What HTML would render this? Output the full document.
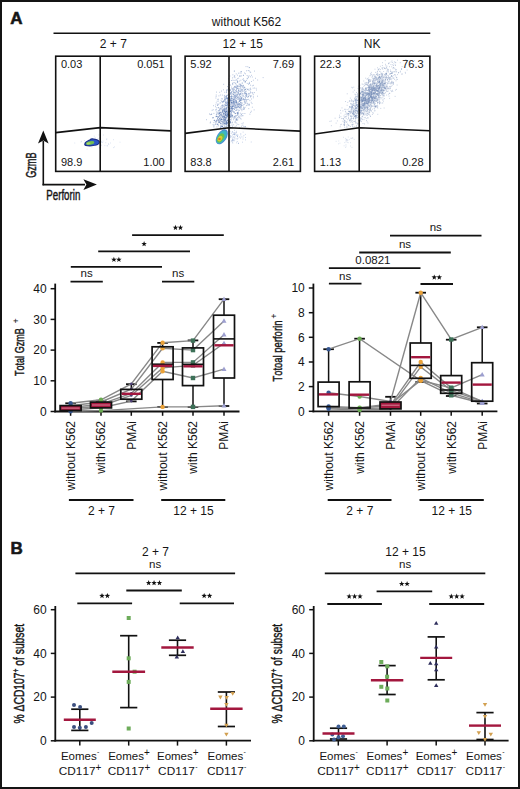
<!DOCTYPE html>
<html><head><meta charset="utf-8"><style>
html,body{margin:0;padding:0;background:#fff;}
svg{display:block;}
text{font-family:"Liberation Sans",sans-serif;fill:#151515;font-kerning:none;}
.c{stroke:#1a1a1a;stroke-width:0.45px;}
</style></head><body>
<svg width="520" height="789" viewBox="0 0 520 789">
<rect x="1" y="1" width="518" height="787" fill="#fff" stroke="#141414" stroke-width="2"/>
<text x="10.3" y="23.7" font-size="17" text-anchor="start" font-weight="bold" stroke="#1a1a1a" stroke-width="0.6">A</text>
<text x="246.5" y="26.0" font-size="12" text-anchor="middle" >without K562</text>
<line x1="53.5" y1="33.2" x2="430.3" y2="33.2" stroke="#111" stroke-width="1.6"/>
<path d="M100.0 143.8h.01M103.0 141.1h.01M97.3 143.5h.01M91.1 138.3h.01M95.5 140.7h.01M90.1 142.2h.01M100.6 146.6h.01M113.4 147.6h.01M95.1 137.7h.01M93.8 139.8h.01M104.9 145.6h.01M103.6 135.0h.01M101.1 141.1h.01M90.7 142.6h.01M99.7 148.0h.01M107.0 145.8h.01M86.6 141.7h.01M95.4 141.5h.01M81.0 142.0h.01M87.1 149.1h.01M81.6 141.3h.01M97.6 141.8h.01M87.3 144.4h.01M102.7 142.5h.01M101.6 142.2h.01M98.1 138.5h.01M74.8 143.0h.01M94.6 141.2h.01M99.5 147.7h.01M101.1 145.6h.01M84.7 142.9h.01M95.2 145.7h.01M90.2 141.6h.01M91.9 147.2h.01M110.6 143.0h.01M91.9 145.3h.01M99.7 137.8h.01M108.8 144.4h.01M94.2 136.2h.01M98.9 134.9h.01M101.1 141.8h.01M100.6 139.4h.01M87.7 143.7h.01M100.8 152.0h.01M113.6 139.7h.01M84.5 140.5h.01M108.6 143.8h.01M101.2 145.0h.01M93.6 142.3h.01M120.0 142.2h.01M107.6 145.8h.01M88.0 145.1h.01M100.7 138.9h.01M105.8 142.7h.01M98.1 143.1h.01M106.8 138.8h.01M99.3 144.0h.01M106.7 139.6h.01M114.4 146.9h.01M93.2 143.8h.01" stroke="#9fb4dc" stroke-width="0.7" stroke-linecap="round" opacity="0.6" fill="none"/>
<path d="M84.2,144.3 C84.6,141.6 87.6,140.2 89.6,139.4 C90.6,138.2 92.4,137.9 93.6,138.6 C96,138.8 98.6,139.2 99.8,141.6 C100,143.6 98.6,145.2 96.4,145.6 C93,146.6 88,146.6 85.6,146.0 C84.6,145.7 84.1,145.1 84.2,144.3 Z" fill="#1c2f86"/>
<path d="M85.4,144.2 C85.8,142.4 88.2,141.2 90,140.6 C91.2,139.6 92.6,139.4 93.8,139.8 C96,140 98,140.4 98.8,142 C98.8,143.4 97.6,144.4 95.8,144.7 C92.6,145.4 88.4,145.5 86.4,145.1 C85.7,144.9 85.3,144.6 85.4,144.2 Z" fill="#2b56c8"/>
<ellipse cx="90.2" cy="143.0" rx="4.2" ry="1.7" transform="rotate(-10 90.2 143)" fill="#72be52"/>
<ellipse cx="88.6" cy="143.4" rx="2.0" ry="0.9" transform="rotate(-10 88.6 143.4)" fill="#a8d468"/>
<path d="M234.2 99.4h.01M228.9 107.9h.01M238.8 104.8h.01M215.4 124.2h.01M236.5 119.9h.01M236.9 96.3h.01M216.9 126.9h.01M236.4 88.4h.01M219.6 122.1h.01M240.1 91.5h.01M224.7 110.0h.01M246.7 94.1h.01M230.2 96.9h.01M210.4 114.6h.01M237.2 82.3h.01M229.9 76.0h.01M233.8 101.8h.01M239.8 107.8h.01M237.8 105.0h.01M219.9 109.9h.01M236.1 84.2h.01M242.9 113.5h.01M236.3 102.6h.01M229.8 111.5h.01M237.7 112.4h.01M242.9 125.2h.01M250.5 88.2h.01M234.5 103.4h.01M242.6 89.3h.01M238.6 102.7h.01M226.3 108.4h.01M225.6 102.2h.01M231.5 108.6h.01M228.3 98.1h.01M231.9 105.8h.01M233.3 105.2h.01M241.6 126.2h.01M224.1 109.1h.01M243.6 78.8h.01M229.4 109.4h.01M231.1 116.2h.01M243.4 99.7h.01M239.7 81.0h.01M220.4 117.8h.01M222.5 98.9h.01M224.6 106.6h.01M227.5 125.9h.01M239.2 91.4h.01M227.7 98.3h.01M232.5 98.9h.01M230.2 111.0h.01M240.5 96.5h.01M227.4 106.4h.01M232.0 102.1h.01M215.9 110.2h.01M219.7 113.6h.01M253.1 88.2h.01M217.1 101.2h.01M234.0 96.1h.01M235.7 102.1h.01M229.4 105.7h.01M226.2 105.3h.01M237.9 92.5h.01M232.7 105.0h.01M233.1 102.8h.01M222.3 95.1h.01M240.6 85.0h.01M233.0 89.5h.01M233.2 94.3h.01M232.6 109.1h.01M230.4 121.2h.01M246.1 91.1h.01M237.0 86.8h.01M239.7 105.6h.01M245.4 97.3h.01M246.6 94.1h.01M248.6 94.1h.01M239.1 88.4h.01M230.6 106.5h.01M249.0 83.4h.01M218.1 113.4h.01M241.0 90.2h.01M234.0 92.9h.01M237.3 88.4h.01M234.3 71.0h.01M237.5 78.7h.01M227.5 116.1h.01M230.2 125.9h.01M245.9 93.2h.01M227.9 114.2h.01M233.2 100.6h.01M234.1 87.4h.01M227.3 123.9h.01M220.3 128.1h.01M240.0 99.4h.01M246.3 105.6h.01M232.8 104.2h.01M224.9 96.0h.01M223.7 109.8h.01M215.9 116.7h.01M225.7 99.6h.01M237.2 117.7h.01M226.2 123.4h.01M227.6 89.8h.01M238.4 103.8h.01M245.2 99.4h.01M226.2 113.0h.01M226.1 107.7h.01M226.3 113.2h.01M231.1 113.6h.01M239.9 100.3h.01M237.6 114.9h.01M244.6 99.9h.01M244.3 100.0h.01M255.5 78.3h.01M230.5 121.4h.01M229.8 84.7h.01M233.1 101.8h.01M236.5 102.1h.01M223.3 119.0h.01M237.7 109.8h.01M236.6 90.1h.01M227.9 99.3h.01M244.5 104.2h.01M237.1 106.8h.01M242.8 86.4h.01M240.4 104.0h.01M232.6 111.2h.01M206.6 119.7h.01M228.3 106.6h.01M236.0 80.5h.01M236.1 101.0h.01M235.3 120.0h.01M225.7 112.0h.01M233.8 82.7h.01M248.7 104.9h.01M231.8 99.0h.01M226.1 98.0h.01M236.3 101.2h.01M242.1 91.6h.01M233.2 91.6h.01M241.0 100.5h.01M225.1 113.3h.01M231.5 91.5h.01M231.6 110.6h.01M246.1 88.8h.01M222.7 115.9h.01M235.8 103.8h.01M233.8 100.8h.01M245.1 126.9h.01M240.2 76.2h.01M252.3 85.8h.01M231.4 107.0h.01M238.3 90.4h.01M241.5 98.1h.01M244.3 101.5h.01M236.3 102.8h.01M231.1 98.1h.01M224.5 113.6h.01M236.2 106.1h.01M237.2 105.1h.01M250.8 89.5h.01M239.2 97.8h.01M241.4 104.2h.01M253.6 85.3h.01M232.3 108.8h.01M222.4 101.7h.01M215.9 121.5h.01M234.5 76.0h.01M250.7 93.0h.01M234.4 86.4h.01M246.6 95.8h.01M239.0 101.3h.01M247.0 103.2h.01M239.6 107.3h.01M232.6 103.4h.01M233.5 99.7h.01M244.1 81.3h.01M239.0 94.2h.01M230.7 100.2h.01M230.8 108.6h.01M241.3 114.2h.01M232.9 74.8h.01M239.2 95.1h.01M229.0 97.4h.01M233.7 106.1h.01M233.4 118.1h.01M233.7 101.7h.01M244.8 91.8h.01M221.7 101.5h.01M240.4 107.3h.01M229.2 102.1h.01M239.2 101.4h.01M226.2 122.6h.01M216.1 96.4h.01M224.4 110.0h.01M241.2 90.0h.01M240.1 115.8h.01M239.8 94.2h.01M245.3 81.6h.01M223.4 100.9h.01M240.3 113.2h.01M247.5 103.8h.01M234.7 101.1h.01M227.1 113.5h.01M226.6 90.1h.01M252.3 77.0h.01M250.7 112.4h.01M238.0 105.8h.01M236.5 118.6h.01M240.0 98.4h.01M220.6 114.5h.01M236.6 119.6h.01M234.1 80.4h.01M227.7 112.3h.01M242.8 87.5h.01M249.4 83.5h.01M238.8 98.8h.01M240.3 94.8h.01M241.2 73.0h.01M224.9 99.8h.01M231.4 109.0h.01M221.7 116.8h.01M226.2 96.6h.01M235.0 77.7h.01M237.0 86.9h.01M216.7 107.9h.01M220.5 108.3h.01M220.8 102.8h.01M237.4 97.7h.01M235.9 104.9h.01M248.9 104.1h.01M226.5 92.6h.01M228.3 102.9h.01M240.2 104.2h.01M234.3 97.6h.01M231.9 101.1h.01M248.7 99.4h.01M243.5 75.3h.01M230.5 89.7h.01M226.2 96.4h.01M226.6 124.3h.01M238.8 96.8h.01M213.9 122.6h.01M219.6 116.7h.01M243.1 91.3h.01M242.5 93.4h.01M229.4 101.1h.01M228.4 125.4h.01M236.0 107.6h.01M218.7 104.7h.01M236.3 91.7h.01M250.7 72.4h.01M232.0 96.4h.01M215.8 104.9h.01M225.6 115.6h.01M239.1 104.0h.01M243.8 108.0h.01M213.2 109.7h.01M252.3 107.2h.01M220.2 112.9h.01M247.4 89.2h.01M249.0 90.6h.01M247.4 89.6h.01M232.6 107.7h.01M230.0 90.8h.01M237.8 104.6h.01M227.5 104.0h.01M215.9 98.0h.01M245.3 126.6h.01M230.5 122.2h.01M251.2 95.9h.01M227.4 100.8h.01M245.4 102.5h.01M250.9 92.5h.01M229.7 111.3h.01M227.7 95.1h.01M235.7 95.3h.01M217.8 99.4h.01M229.5 82.4h.01M236.4 98.5h.01M220.7 114.1h.01M227.9 112.8h.01M238.6 90.0h.01M249.9 100.6h.01M242.3 83.1h.01M246.0 96.7h.01M237.4 80.9h.01M230.0 105.1h.01M238.7 107.6h.01M219.6 112.2h.01M247.8 66.7h.01M224.8 99.4h.01M244.8 80.4h.01M241.3 114.4h.01M230.5 96.6h.01M226.0 123.7h.01M226.3 103.4h.01M232.8 84.6h.01M218.9 113.9h.01M250.5 91.2h.01M252.0 103.6h.01M231.4 116.2h.01M226.8 105.5h.01M236.4 109.2h.01M232.0 100.7h.01M236.5 110.5h.01M231.5 112.8h.01M234.5 105.9h.01M232.3 116.4h.01M223.0 116.3h.01M231.6 100.4h.01M228.5 84.2h.01M222.5 119.9h.01M225.2 96.7h.01M229.7 109.2h.01M222.4 111.1h.01M240.3 90.0h.01M234.4 109.2h.01M234.1 77.0h.01M224.5 108.9h.01M230.6 93.1h.01M238.0 106.2h.01M241.2 116.0h.01M243.6 95.8h.01M231.3 102.0h.01M247.7 97.4h.01M224.3 97.1h.01M237.8 119.8h.01M229.6 100.4h.01M216.6 92.1h.01M257.6 96.2h.01M239.4 117.7h.01M227.5 98.5h.01M225.3 124.2h.01M237.0 91.8h.01M228.7 115.6h.01M214.0 120.5h.01M229.7 99.8h.01M244.2 87.8h.01M226.8 121.8h.01M235.9 118.9h.01M230.6 111.1h.01M243.2 122.9h.01M232.1 93.9h.01M231.4 112.4h.01M217.6 104.8h.01M229.8 89.6h.01M238.7 114.9h.01M230.9 92.5h.01M232.2 115.4h.01M226.8 116.8h.01M216.7 122.1h.01M243.3 75.4h.01M229.2 103.7h.01M232.8 96.3h.01M239.3 103.6h.01M239.7 100.8h.01M231.0 98.6h.01M240.0 73.1h.01M230.1 115.6h.01M224.5 121.3h.01M235.2 117.4h.01M243.9 126.5h.01M244.5 93.6h.01M239.2 90.1h.01M227.6 113.2h.01M220.6 116.8h.01M226.4 103.0h.01M236.2 79.6h.01M234.8 92.8h.01M232.9 117.4h.01M238.1 86.1h.01M226.8 114.7h.01M224.8 101.2h.01M236.3 125.8h.01M232.0 115.4h.01M254.5 88.0h.01M244.6 92.5h.01M241.9 110.7h.01M227.7 111.8h.01M227.9 128.1h.01M249.9 114.2h.01M226.3 97.8h.01M241.7 105.6h.01M245.1 107.3h.01M230.6 117.1h.01M239.1 104.1h.01M242.7 105.3h.01M237.8 82.0h.01M248.4 77.6h.01M227.9 100.2h.01M225.4 109.1h.01M230.0 100.0h.01M229.9 108.6h.01M231.0 111.3h.01M237.2 103.1h.01M218.7 110.5h.01M251.4 99.0h.01M241.6 105.9h.01M240.9 99.9h.01M231.0 102.3h.01M229.6 110.3h.01M232.5 115.2h.01M235.8 105.4h.01M219.9 103.1h.01M240.9 100.2h.01M254.1 109.9h.01M213.9 113.4h.01M241.6 103.1h.01M229.0 119.9h.01M230.1 108.8h.01M242.0 109.1h.01M214.1 124.8h.01M236.1 100.3h.01M245.3 103.5h.01M232.2 102.5h.01M229.1 105.3h.01M233.0 106.3h.01M225.7 112.5h.01M243.3 109.3h.01M225.1 105.5h.01M240.9 102.5h.01M218.9 113.1h.01M240.4 99.9h.01M234.6 98.8h.01M216.2 95.0h.01M231.8 106.8h.01M230.6 90.4h.01M221.5 121.6h.01M247.6 99.6h.01M228.4 94.4h.01M229.0 94.0h.01M246.5 100.3h.01M231.4 110.0h.01M243.3 109.1h.01M240.5 93.6h.01M231.1 92.6h.01M235.3 98.1h.01M233.7 124.8h.01M244.1 96.8h.01M241.5 85.6h.01M240.9 87.8h.01M235.1 97.6h.01M221.3 119.8h.01M253.2 94.4h.01M233.7 103.0h.01M233.5 94.6h.01M230.5 122.9h.01M231.1 120.1h.01M229.8 109.0h.01M237.6 82.1h.01M232.4 106.0h.01M224.8 92.3h.01M236.2 73.9h.01M249.4 82.4h.01M230.6 100.9h.01M235.6 105.3h.01M235.2 121.4h.01M234.7 112.2h.01M237.2 95.4h.01M251.2 102.3h.01M239.7 101.6h.01M238.1 86.8h.01M234.8 113.4h.01M236.9 103.0h.01M233.1 88.7h.01M238.5 93.5h.01M239.8 86.4h.01M223.6 89.8h.01M231.5 104.6h.01M234.8 95.4h.01M225.5 112.9h.01M213.6 117.6h.01M235.6 92.2h.01M233.9 101.6h.01M237.0 97.2h.01M216.7 120.0h.01M236.6 107.8h.01M222.7 105.2h.01M227.8 111.7h.01M227.8 103.3h.01M236.4 87.6h.01M244.0 99.2h.01M228.3 107.8h.01M232.4 100.3h.01M240.5 91.7h.01M218.9 95.9h.01M232.2 91.3h.01M231.8 88.9h.01M237.4 75.2h.01M235.5 83.4h.01M230.7 94.3h.01M238.3 97.9h.01M233.2 87.9h.01M232.1 108.5h.01M237.0 102.8h.01M235.0 86.8h.01M247.1 75.5h.01M244.5 108.1h.01M236.4 102.6h.01M231.4 96.4h.01M242.1 83.1h.01M228.2 98.6h.01M245.1 82.4h.01M234.5 116.4h.01M227.9 101.0h.01M231.9 103.0h.01M246.7 94.0h.01M237.4 85.7h.01M226.7 121.5h.01M222.2 110.0h.01M231.0 94.1h.01M227.1 108.1h.01M239.7 127.6h.01M238.0 86.1h.01M234.0 92.9h.01M233.8 92.8h.01M230.6 106.8h.01M245.0 89.4h.01M234.3 104.7h.01M254.6 92.6h.01M230.4 113.7h.01M238.9 116.6h.01M237.5 99.1h.01M234.3 112.1h.01M229.1 87.8h.01M235.2 97.2h.01M228.5 113.0h.01M233.3 99.3h.01M218.3 99.2h.01M245.8 91.5h.01M228.2 108.2h.01M229.0 105.5h.01M240.1 84.2h.01M246.4 70.8h.01M249.1 75.8h.01M226.5 96.4h.01M229.7 95.3h.01M245.6 81.6h.01M234.7 103.1h.01M226.2 112.8h.01M231.4 97.8h.01M231.7 92.6h.01M229.2 111.8h.01M232.4 126.3h.01M219.0 116.8h.01M248.5 96.7h.01M235.5 113.5h.01M230.7 101.5h.01M240.9 100.5h.01M228.6 88.5h.01M221.1 100.3h.01M229.0 90.6h.01M226.5 111.5h.01M230.2 104.8h.01M225.0 113.0h.01M241.9 86.3h.01M220.3 95.0h.01M233.3 112.2h.01M223.1 101.4h.01M228.8 102.0h.01M236.0 90.5h.01M217.4 118.6h.01M219.3 110.6h.01M225.6 103.0h.01M249.6 67.5h.01M244.1 90.1h.01M237.5 104.1h.01M232.2 88.6h.01M241.6 71.5h.01M227.1 101.4h.01M235.3 107.2h.01M228.4 78.9h.01M245.6 98.2h.01M235.3 90.7h.01M226.3 105.4h.01M248.2 76.6h.01M251.5 81.5h.01M240.1 94.5h.01M245.5 95.1h.01M223.3 128.2h.01M246.4 96.2h.01M241.5 107.3h.01M236.4 95.0h.01M248.0 96.3h.01M233.5 106.0h.01M225.0 123.6h.01M230.7 93.4h.01M228.2 109.9h.01M237.6 107.7h.01M222.3 105.1h.01M236.7 107.4h.01M243.6 85.7h.01M221.5 91.1h.01M240.5 86.0h.01M250.6 76.8h.01M229.6 98.4h.01M224.3 125.1h.01M213.6 105.7h.01M231.7 118.9h.01M227.2 105.7h.01M240.7 102.5h.01M210.4 122.0h.01M241.1 98.5h.01M223.9 120.2h.01M241.6 99.5h.01M227.8 99.7h.01M228.6 103.3h.01M248.8 108.6h.01M225.8 105.7h.01M226.2 107.0h.01M222.6 122.4h.01M227.6 98.4h.01M253.3 80.2h.01M257.7 80.0h.01M237.8 81.4h.01M227.4 86.6h.01M238.1 113.4h.01M250.4 85.2h.01M239.6 104.2h.01M241.7 105.3h.01M227.1 102.3h.01M233.9 99.3h.01M222.8 102.6h.01M224.7 97.9h.01M234.4 118.2h.01M227.9 103.9h.01M263.1 77.6h.01M234.6 102.1h.01M228.9 102.3h.01M242.9 96.3h.01M250.5 97.0h.01M231.0 117.2h.01M225.3 100.1h.01M242.4 90.0h.01M245.1 101.5h.01M232.0 97.9h.01M238.7 78.2h.01M237.1 113.0h.01M235.9 100.3h.01M224.2 104.6h.01M240.9 80.2h.01M217.9 124.5h.01M232.4 110.7h.01M232.1 108.3h.01M246.0 95.7h.01M242.8 95.1h.01M232.6 77.9h.01M227.8 123.0h.01M244.9 93.8h.01M235.7 106.2h.01M237.3 112.9h.01M234.1 92.2h.01M222.8 110.3h.01M225.3 102.7h.01M211.4 114.4h.01M237.3 112.6h.01M232.0 93.9h.01M234.4 96.0h.01M234.8 75.9h.01M224.6 99.7h.01M217.7 117.8h.01M227.6 109.9h.01M231.4 114.2h.01M212.1 110.3h.01M242.0 97.5h.01M222.9 106.0h.01M215.7 124.0h.01M243.1 93.8h.01M233.3 102.3h.01M226.6 91.7h.01M247.2 105.1h.01M232.6 90.1h.01M236.3 101.2h.01M243.2 85.3h.01M246.3 99.6h.01M233.9 94.5h.01M243.6 98.6h.01M220.9 118.0h.01M240.9 106.5h.01M227.9 102.2h.01M233.4 97.2h.01M238.8 124.6h.01M246.4 80.4h.01M235.8 99.9h.01M242.0 123.7h.01M226.6 124.6h.01M227.5 102.3h.01M238.8 104.4h.01M222.5 107.0h.01M242.5 103.1h.01M238.6 113.1h.01M234.0 92.0h.01M226.0 108.7h.01M235.4 102.0h.01M240.4 88.1h.01M232.2 116.0h.01M218.3 101.1h.01M226.6 110.8h.01M236.5 89.4h.01M225.8 115.4h.01M233.6 108.3h.01M226.3 97.7h.01M232.5 115.7h.01M227.6 113.1h.01M227.4 105.4h.01M213.0 124.7h.01M218.1 116.6h.01M234.4 107.5h.01M229.1 96.2h.01M233.8 103.6h.01M230.9 127.6h.01M238.5 110.2h.01M249.5 95.1h.01M235.9 92.8h.01M226.9 98.8h.01M235.9 115.8h.01M240.3 93.6h.01M238.4 112.0h.01M227.6 116.5h.01M237.5 115.1h.01M248.7 84.4h.01M240.5 100.2h.01M244.7 87.2h.01M234.2 108.5h.01M241.6 89.3h.01M232.4 109.6h.01M240.1 106.0h.01M246.0 66.6h.01M250.5 96.0h.01M230.8 107.3h.01M240.5 105.0h.01M235.9 96.4h.01M240.1 84.3h.01M244.9 113.5h.01M222.1 123.1h.01M224.5 100.9h.01M229.9 98.7h.01M233.1 98.6h.01M256.5 90.0h.01M237.8 97.4h.01M245.5 93.0h.01M221.3 112.6h.01M242.0 90.6h.01M251.4 75.3h.01M250.9 96.1h.01M231.4 95.6h.01M239.4 100.8h.01M247.2 78.3h.01M222.3 110.2h.01M233.7 102.4h.01M235.5 94.1h.01M223.7 84.3h.01M235.8 108.6h.01M239.9 98.5h.01M230.0 103.4h.01M226.4 95.4h.01M243.4 107.1h.01M229.4 116.9h.01M241.0 104.3h.01M249.0 93.6h.01M225.3 112.2h.01M238.4 106.6h.01M236.9 91.5h.01M227.7 114.9h.01M235.0 98.3h.01M228.2 115.0h.01M248.6 89.3h.01M249.1 70.8h.01M245.6 73.8h.01M231.4 103.1h.01M241.2 92.2h.01M229.4 96.7h.01M231.8 98.2h.01M243.4 80.4h.01M222.9 116.7h.01M240.0 86.7h.01M230.2 99.8h.01M256.1 88.3h.01M244.3 102.5h.01M233.4 111.2h.01M235.8 97.2h.01M253.3 97.8h.01M236.8 101.5h.01M236.8 94.3h.01M233.4 108.8h.01M249.1 93.3h.01M238.6 91.7h.01M249.2 105.3h.01M229.1 97.5h.01M245.3 89.4h.01M225.2 104.1h.01M242.2 115.7h.01M231.2 102.5h.01M241.2 85.1h.01M232.3 122.1h.01M249.9 89.0h.01M223.4 106.1h.01M225.6 114.5h.01M232.9 80.2h.01M234.8 102.7h.01M226.1 117.9h.01M230.1 104.7h.01M235.6 86.7h.01M239.1 84.1h.01M227.0 104.4h.01M240.4 97.2h.01M248.7 96.1h.01M218.0 103.8h.01M235.9 96.0h.01M231.6 100.2h.01M234.5 109.5h.01M225.3 104.7h.01M233.9 99.7h.01M227.9 97.5h.01M235.7 110.5h.01M232.6 106.9h.01M240.1 85.8h.01M238.2 99.3h.01M238.2 88.6h.01M231.5 80.5h.01M241.9 95.0h.01M250.0 71.9h.01M228.6 111.4h.01M245.8 93.2h.01M240.6 108.8h.01M238.4 73.2h.01M239.5 76.2h.01M238.0 118.0h.01M233.6 90.0h.01M231.5 87.1h.01M234.7 89.4h.01M230.8 100.5h.01M226.8 90.3h.01M238.6 92.5h.01M225.6 98.2h.01M232.7 83.8h.01M233.8 90.6h.01M227.8 114.4h.01M244.4 90.2h.01M238.5 106.4h.01M227.0 111.7h.01M237.0 96.2h.01M223.6 110.6h.01M240.5 118.2h.01M229.4 123.6h.01M227.1 98.1h.01M237.5 94.4h.01M245.3 89.6h.01M236.8 104.3h.01M252.8 92.6h.01M243.6 104.8h.01M230.4 100.6h.01M237.3 93.2h.01M232.4 83.2h.01M234.1 106.3h.01M234.0 104.7h.01M251.3 111.2h.01M235.6 100.2h.01M215.4 106.7h.01M236.2 85.4h.01M232.8 106.6h.01M229.0 91.2h.01M223.9 109.3h.01M234.2 95.2h.01M239.1 96.8h.01M230.9 106.1h.01M240.8 71.7h.01M241.9 98.4h.01M241.6 75.9h.01M237.0 86.8h.01M221.5 105.7h.01M227.1 103.7h.01M241.4 97.2h.01M224.3 95.4h.01M234.3 100.1h.01M237.5 106.9h.01M221.2 123.8h.01M234.7 104.7h.01M213.9 127.0h.01M245.3 100.0h.01M237.4 113.9h.01M231.8 111.1h.01M221.7 98.7h.01M229.3 94.3h.01M232.3 122.8h.01M230.1 116.0h.01M224.7 112.0h.01M242.8 79.4h.01M228.2 115.0h.01M241.2 93.7h.01M216.3 114.6h.01M242.5 99.8h.01M241.3 109.2h.01M226.6 98.4h.01M229.0 89.5h.01M247.3 78.8h.01M231.4 96.5h.01M219.7 92.3h.01M234.0 116.3h.01M239.0 93.8h.01M229.9 102.8h.01M253.3 96.3h.01M235.1 102.0h.01M240.0 75.8h.01M223.3 127.5h.01M225.9 101.8h.01M234.8 87.1h.01M234.9 106.8h.01M226.1 109.8h.01M230.0 103.2h.01M237.2 124.2h.01M240.8 102.0h.01M254.4 71.1h.01M244.8 87.4h.01M231.0 117.1h.01M238.8 116.9h.01M232.0 106.3h.01M252.7 93.2h.01M223.3 109.0h.01M228.7 109.4h.01M230.7 85.2h.01M237.4 88.6h.01M235.7 107.5h.01M237.3 120.1h.01M220.9 119.5h.01M230.4 110.2h.01M234.1 88.9h.01M222.9 105.8h.01M237.8 94.8h.01M234.3 71.2h.01M242.2 85.8h.01M227.8 116.3h.01M235.4 87.6h.01M234.8 82.7h.01M221.0 106.7h.01M241.1 119.1h.01M225.0 98.5h.01M235.1 126.8h.01M247.2 83.4h.01M220.3 112.2h.01M239.7 107.7h.01M244.5 109.1h.01M229.4 96.0h.01M234.2 96.5h.01M240.1 106.9h.01M243.5 87.0h.01M230.8 99.3h.01M233.8 112.0h.01M227.1 95.5h.01M249.6 104.3h.01M224.3 110.9h.01M216.2 102.9h.01M238.4 90.2h.01M235.7 96.0h.01M243.0 115.7h.01M244.5 73.0h.01M248.2 70.5h.01M229.6 122.1h.01M246.7 101.7h.01M249.1 67.7h.01M246.0 93.7h.01M239.2 99.6h.01M231.3 102.9h.01M231.8 108.4h.01M233.4 103.9h.01M225.2 105.6h.01M246.9 94.8h.01M223.0 102.1h.01M239.5 110.3h.01M233.6 119.7h.01M233.6 101.4h.01M224.1 110.5h.01M231.9 102.7h.01M243.8 88.6h.01M241.6 98.4h.01M239.4 95.2h.01M243.1 99.2h.01M231.2 98.6h.01" stroke="#5878b4" stroke-width="0.9" stroke-linecap="round" opacity="0.55" fill="none"/>
<path d="M226.9 117.8h.01M218.3 125.8h.01M229.8 115.6h.01M225.5 117.7h.01M221.6 119.7h.01M226.4 111.4h.01M223.7 113.3h.01M222.9 117.2h.01M221.7 126.6h.01M224.9 111.4h.01M223.4 101.3h.01M226.8 122.7h.01M219.4 115.4h.01M226.5 120.8h.01M226.8 116.9h.01M218.1 111.1h.01M222.9 109.0h.01M219.2 122.3h.01M224.2 107.7h.01M216.3 120.7h.01M228.1 118.0h.01M225.8 111.2h.01M227.5 114.9h.01M219.7 122.2h.01M223.7 122.5h.01M219.4 119.0h.01M223.8 118.2h.01M229.5 112.9h.01M221.0 125.2h.01M223.1 114.5h.01M220.6 112.4h.01M226.1 115.3h.01M226.7 116.2h.01M226.6 109.2h.01M221.7 113.7h.01M228.6 114.4h.01M236.7 120.0h.01M227.1 107.6h.01M228.9 111.8h.01M211.7 114.1h.01M223.9 119.8h.01M218.4 121.8h.01M221.9 119.6h.01M218.8 120.2h.01M224.2 114.8h.01M221.1 126.4h.01M225.0 109.0h.01M224.4 116.4h.01M217.2 116.6h.01M221.2 121.4h.01M225.6 123.9h.01M230.2 128.2h.01M225.9 122.4h.01M225.3 118.5h.01M229.0 121.4h.01M225.1 127.8h.01M230.9 122.9h.01M226.7 125.1h.01M223.9 116.9h.01M229.8 108.3h.01M226.4 115.0h.01M224.6 120.3h.01M220.9 127.3h.01M216.9 124.1h.01M210.2 122.9h.01M222.7 112.6h.01M212.9 118.0h.01M224.5 117.8h.01M222.5 121.4h.01M216.6 114.0h.01M230.6 111.8h.01M226.3 123.5h.01M223.6 120.1h.01M229.6 125.8h.01M234.7 117.1h.01M216.0 121.1h.01M225.9 126.3h.01M222.6 126.5h.01M222.4 126.6h.01M229.4 117.4h.01M227.1 102.5h.01M218.8 122.2h.01M222.6 111.1h.01M221.2 115.1h.01M220.8 123.8h.01M216.7 116.5h.01M218.7 117.1h.01M224.9 123.0h.01M228.5 107.3h.01M216.3 112.0h.01M221.3 114.6h.01M220.0 120.0h.01M224.5 117.2h.01M223.5 112.0h.01M228.6 119.1h.01M224.8 115.6h.01M225.8 114.2h.01M230.9 111.4h.01M227.5 104.6h.01M231.5 115.0h.01M228.6 113.4h.01M221.2 126.0h.01M223.9 118.7h.01M224.4 123.5h.01M227.2 123.3h.01M230.7 114.7h.01M223.7 123.2h.01M227.7 120.5h.01M229.3 121.4h.01M224.1 117.5h.01M212.8 117.6h.01M228.3 124.7h.01M229.2 107.9h.01M215.7 122.2h.01M220.5 123.3h.01M218.0 120.6h.01M236.5 115.8h.01M231.5 107.5h.01M217.7 112.9h.01M224.7 123.0h.01M221.1 119.5h.01M235.4 116.1h.01M217.0 120.8h.01M217.4 105.4h.01M227.8 110.4h.01M222.6 116.9h.01M223.7 113.6h.01M216.1 109.5h.01M229.8 110.4h.01M229.0 127.2h.01M218.2 107.6h.01M228.4 122.5h.01M219.5 121.0h.01M235.0 122.3h.01M225.5 120.1h.01M220.7 123.0h.01M224.1 124.2h.01M224.9 108.8h.01M232.1 108.7h.01M223.3 113.4h.01M218.8 107.8h.01M232.0 125.0h.01M222.2 117.7h.01M221.9 115.2h.01M222.9 124.6h.01M214.4 120.2h.01M218.1 114.7h.01M220.9 118.7h.01M219.0 122.7h.01M225.3 116.0h.01M228.5 121.8h.01M224.4 111.4h.01M226.2 119.0h.01M226.0 120.9h.01M219.4 115.1h.01M224.6 119.4h.01M218.1 119.7h.01M227.9 122.4h.01M227.9 114.8h.01M225.7 114.5h.01M221.1 108.2h.01M220.3 127.5h.01M219.5 118.6h.01M226.2 121.7h.01M223.9 116.8h.01M219.2 118.8h.01M226.9 122.7h.01M229.2 115.2h.01M221.7 115.8h.01M226.4 126.8h.01M225.9 110.1h.01M225.1 111.9h.01M223.1 121.4h.01M222.6 111.9h.01M220.2 121.1h.01M226.1 111.5h.01M230.4 122.3h.01M228.8 125.5h.01M221.9 119.5h.01M229.4 125.5h.01M224.3 116.9h.01M226.2 117.8h.01M228.1 119.6h.01M224.0 121.6h.01M225.3 118.0h.01M213.9 125.9h.01M230.6 119.4h.01M224.9 111.0h.01M223.3 115.9h.01M209.4 114.0h.01M228.1 121.0h.01M227.4 120.4h.01M226.3 122.7h.01M227.0 123.2h.01M229.4 126.5h.01M226.7 111.4h.01M228.2 120.0h.01M223.0 111.2h.01M221.8 118.6h.01M229.0 119.8h.01M225.4 119.7h.01M219.1 112.7h.01M227.7 114.2h.01M223.8 116.3h.01M218.6 120.0h.01M224.0 123.2h.01M226.3 108.1h.01M216.2 116.3h.01M218.2 117.3h.01M235.7 113.6h.01M219.8 108.9h.01M226.3 115.5h.01M225.8 121.4h.01M232.7 106.5h.01M219.4 113.3h.01M223.9 114.3h.01M224.2 119.2h.01M224.1 127.4h.01M217.8 124.0h.01M219.7 113.4h.01M229.5 117.9h.01M228.4 121.6h.01M222.8 125.2h.01M217.7 124.6h.01M225.0 120.6h.01M220.9 126.2h.01M230.0 114.8h.01M221.2 109.1h.01M231.5 102.8h.01M225.4 112.9h.01M217.5 119.0h.01M222.8 123.2h.01M220.7 120.4h.01M225.4 119.8h.01M219.9 109.8h.01M225.3 114.5h.01M227.4 115.7h.01M225.8 117.4h.01M230.5 116.6h.01M222.1 107.6h.01M214.5 120.7h.01M224.0 121.0h.01M222.6 126.5h.01M237.7 113.5h.01M230.0 112.2h.01M221.9 112.1h.01M224.7 126.2h.01M220.6 115.3h.01M216.7 116.2h.01M236.1 122.9h.01M225.0 119.7h.01" stroke="#4868a8" stroke-width="0.9" stroke-linecap="round" opacity="0.6" fill="none"/>
<path d="M235.0 136.8h.01M232.3 142.1h.01M243.0 137.0h.01M233.1 132.6h.01M237.2 141.5h.01M240.8 134.9h.01M238.6 143.2h.01M232.8 138.9h.01M232.6 131.6h.01M240.6 138.1h.01M236.3 131.3h.01M234.2 134.3h.01M231.2 141.1h.01M237.6 136.4h.01M234.2 134.3h.01M234.0 140.9h.01M232.2 140.8h.01M245.6 137.5h.01M236.7 135.3h.01M237.3 135.1h.01M233.2 140.5h.01M234.7 132.6h.01M234.9 133.3h.01M234.7 140.0h.01M251.2 142.0h.01M236.0 134.9h.01M234.7 138.1h.01M229.8 131.8h.01M233.9 134.1h.01M237.4 136.5h.01M237.9 135.1h.01M235.9 132.9h.01M245.5 139.9h.01M236.7 142.8h.01M232.2 137.8h.01M236.5 132.6h.01M229.6 139.0h.01M236.1 138.8h.01M232.4 135.0h.01M231.9 140.7h.01M243.0 139.0h.01M242.6 142.2h.01M235.0 134.1h.01M231.1 136.4h.01M232.8 143.0h.01M238.0 138.1h.01M232.1 132.2h.01M233.3 134.3h.01M243.1 132.1h.01M233.0 139.8h.01M232.9 139.5h.01M241.2 136.9h.01M239.6 137.0h.01M233.2 136.6h.01M230.4 135.9h.01M234.4 130.3h.01M234.4 134.8h.01M229.7 142.4h.01M229.6 134.9h.01M230.4 137.6h.01M232.4 140.1h.01M229.9 131.3h.01M243.9 135.6h.01M237.6 139.0h.01M240.8 133.7h.01M238.6 143.5h.01M245.3 134.4h.01M230.8 136.1h.01M233.9 137.5h.01M231.2 133.4h.01" stroke="#7090c8" stroke-width="0.9" stroke-linecap="round" opacity="0.5" fill="none"/>
<ellipse cx="221.8" cy="136.8" rx="8.4" ry="4.8" transform="rotate(-57 221.8 136.8)" fill="#4f86d4"/>
<ellipse cx="221.6" cy="137.0" rx="7.4" ry="4.0" transform="rotate(-57 221.6 137)" fill="#3cb6c4"/>
<ellipse cx="220.6" cy="138.0" rx="5.0" ry="2.9" transform="rotate(-57 220.6 138)" fill="#6cc050"/>
<ellipse cx="220.0" cy="138.6" rx="3.0" ry="2.0" transform="rotate(-57 220 138.6)" fill="#d8cc34"/>
<ellipse cx="219.5" cy="138.9" rx="1.4" ry="1.0" fill="#dc7420"/>
<path d="M382.4 84.4h.01M354.5 98.9h.01M381.4 83.1h.01M364.5 92.2h.01M387.6 91.4h.01M361.8 101.4h.01M362.5 101.2h.01M357.3 111.6h.01M375.8 87.6h.01M380.5 83.4h.01M401.4 74.1h.01M385.9 79.9h.01M376.7 96.0h.01M372.8 103.3h.01M370.1 87.1h.01M377.4 103.1h.01M390.0 79.4h.01M385.2 87.3h.01M356.6 103.8h.01M365.9 108.4h.01M387.6 79.6h.01M371.2 89.9h.01M377.8 108.1h.01M386.2 82.6h.01M364.6 100.3h.01M367.8 100.5h.01M368.9 105.7h.01M352.7 126.5h.01M382.6 86.9h.01M361.8 116.9h.01M370.2 109.4h.01M356.0 101.1h.01M376.2 84.5h.01M365.0 93.3h.01M370.7 96.3h.01M357.4 124.0h.01M372.1 99.8h.01M348.4 111.5h.01M372.3 90.9h.01M379.0 95.3h.01M367.5 94.2h.01M393.0 68.7h.01M377.5 90.3h.01M368.6 81.0h.01M375.3 97.3h.01M369.4 100.0h.01M383.7 85.5h.01M378.3 77.7h.01M351.7 110.3h.01M379.5 79.8h.01M377.1 90.3h.01M381.4 83.6h.01M376.0 90.4h.01M364.0 119.6h.01M362.6 116.7h.01M387.7 69.1h.01M370.0 90.2h.01M361.6 121.6h.01M372.6 90.2h.01M372.2 106.3h.01M356.2 126.7h.01M341.4 124.3h.01M350.5 116.2h.01M373.6 92.8h.01M365.6 93.3h.01M362.8 95.5h.01M371.5 90.7h.01M380.8 91.5h.01M344.0 122.1h.01M365.7 99.3h.01M358.5 105.2h.01M349.8 107.0h.01M370.6 109.1h.01M358.1 88.5h.01M364.1 97.0h.01M356.0 117.5h.01M358.2 97.0h.01M395.9 71.8h.01M363.7 115.0h.01M346.9 115.0h.01M374.2 93.3h.01M371.9 83.8h.01M377.7 91.9h.01M357.7 111.2h.01M382.5 83.7h.01M367.3 111.8h.01M359.2 112.9h.01M369.2 109.4h.01M371.7 100.0h.01M372.8 81.9h.01M378.4 88.8h.01M372.1 98.3h.01M374.2 78.1h.01M377.1 100.2h.01M380.7 84.5h.01M355.7 116.1h.01M348.0 113.4h.01M379.3 86.1h.01M355.5 115.6h.01M365.2 98.8h.01M369.3 97.7h.01M354.9 94.2h.01M371.1 107.4h.01M381.0 73.3h.01M331.2 121.0h.01M375.9 80.6h.01M392.6 62.4h.01M372.8 97.9h.01M365.7 92.7h.01M379.7 87.6h.01M386.7 68.1h.01M366.5 120.5h.01M373.6 97.1h.01M376.8 106.2h.01M371.9 84.7h.01M374.9 96.6h.01M373.3 83.6h.01M367.9 103.9h.01M373.7 98.1h.01M355.2 98.7h.01M357.3 100.4h.01M363.2 93.4h.01M361.6 92.0h.01M353.3 108.7h.01M383.7 71.5h.01M362.0 92.2h.01M354.7 114.8h.01M385.2 83.6h.01M355.5 100.8h.01M373.4 87.1h.01M369.9 96.3h.01M371.9 91.8h.01M368.8 91.0h.01M367.2 106.8h.01M374.4 98.8h.01M396.4 71.8h.01M343.5 124.8h.01M379.8 103.0h.01M382.9 97.1h.01M356.2 108.4h.01M353.8 113.7h.01M400.2 72.1h.01M362.2 97.8h.01M395.7 70.1h.01M376.4 89.1h.01M367.7 92.3h.01M374.4 88.8h.01M370.2 81.5h.01M381.1 78.3h.01M366.0 82.4h.01M382.0 103.1h.01M378.9 99.6h.01M391.1 83.0h.01M380.8 86.4h.01M363.1 113.2h.01M368.5 109.4h.01M378.4 95.6h.01M367.1 107.9h.01M361.6 97.4h.01M361.0 110.4h.01M364.6 97.4h.01M369.5 85.8h.01M376.2 78.4h.01M372.1 97.6h.01M398.6 72.7h.01M362.9 91.7h.01M414.5 60.6h.01M388.2 88.5h.01M374.0 88.0h.01M362.2 100.8h.01M372.7 101.9h.01M370.3 92.2h.01M387.0 66.2h.01M355.8 115.6h.01M382.5 62.7h.01M367.8 99.9h.01M383.6 91.0h.01M375.1 97.2h.01M368.3 102.5h.01M381.1 89.8h.01M371.7 95.4h.01M353.2 107.9h.01M379.8 82.6h.01M377.6 86.5h.01M382.5 93.0h.01M388.9 89.0h.01M384.5 83.1h.01M366.3 93.3h.01M351.1 111.1h.01M353.3 113.6h.01M391.8 83.6h.01M379.7 87.9h.01M370.9 94.4h.01M361.6 98.7h.01M374.4 99.0h.01M371.6 96.8h.01M365.9 100.3h.01M362.5 105.7h.01M402.4 74.0h.01M371.9 92.3h.01M370.7 110.6h.01M360.7 118.1h.01M361.9 105.8h.01M382.3 89.9h.01M378.1 85.5h.01M363.7 95.6h.01M369.4 94.3h.01M362.4 96.5h.01M359.6 112.7h.01M385.0 78.8h.01M376.8 93.3h.01M402.1 66.5h.01M347.2 93.8h.01M369.8 99.0h.01M371.9 77.2h.01M367.9 99.9h.01M350.1 110.9h.01M359.6 109.0h.01M377.3 100.0h.01M366.2 84.8h.01M369.8 98.0h.01M381.1 82.4h.01M372.8 75.4h.01M376.6 94.3h.01M370.5 95.8h.01M364.8 97.3h.01M373.0 85.9h.01M395.1 96.4h.01M368.9 93.7h.01M367.0 83.0h.01M362.1 96.6h.01M352.2 113.2h.01M356.8 107.7h.01M378.4 85.6h.01M370.4 86.0h.01M390.7 77.1h.01M368.4 93.4h.01M373.7 79.2h.01M381.5 75.3h.01M379.6 81.3h.01M366.9 107.4h.01M370.1 100.3h.01M370.0 93.0h.01M358.8 109.1h.01M376.4 90.6h.01M391.0 90.5h.01M361.7 99.9h.01M394.7 71.7h.01M370.0 102.7h.01M363.4 94.9h.01M368.1 99.9h.01M362.6 106.0h.01M372.7 88.6h.01M372.8 98.0h.01M393.7 78.1h.01M382.1 92.4h.01M375.3 88.1h.01M368.3 99.7h.01M364.5 123.9h.01M364.0 92.9h.01M361.3 108.1h.01M384.9 86.9h.01M370.3 97.0h.01M392.1 76.5h.01M379.2 86.9h.01M383.0 87.9h.01M378.5 98.0h.01M371.4 92.4h.01M378.4 88.1h.01M380.3 83.6h.01M360.0 103.8h.01M375.5 89.4h.01M372.4 100.1h.01M374.8 106.1h.01M369.8 111.9h.01M359.2 120.2h.01M379.2 76.5h.01M377.6 101.2h.01M370.2 89.2h.01M390.9 71.4h.01M407.1 70.0h.01M355.0 103.5h.01M385.9 85.3h.01M378.4 88.8h.01M373.9 90.1h.01M371.5 86.2h.01M371.7 97.9h.01M386.1 73.1h.01M381.8 91.9h.01M379.5 96.2h.01M378.0 74.1h.01M378.0 82.1h.01M373.9 88.6h.01M368.4 87.0h.01M385.1 68.3h.01M376.3 89.6h.01M368.1 96.3h.01M352.7 100.8h.01M363.7 98.4h.01M360.4 111.9h.01M365.8 89.8h.01M368.8 88.9h.01M376.2 100.9h.01M370.1 81.0h.01M365.8 88.5h.01M360.8 110.1h.01M379.2 74.5h.01M360.9 104.2h.01M353.9 110.4h.01M360.2 112.5h.01M358.4 86.2h.01M371.3 74.3h.01M377.8 75.7h.01M377.0 97.2h.01M355.7 111.2h.01M354.8 98.0h.01M362.0 109.8h.01M371.2 101.1h.01M348.6 118.5h.01M369.8 93.2h.01M379.4 89.2h.01M373.8 102.7h.01M376.0 90.5h.01M361.7 110.5h.01M353.1 115.0h.01M361.0 102.9h.01M379.1 77.1h.01M383.0 83.4h.01M363.4 100.9h.01M382.7 79.1h.01M370.5 103.9h.01M389.5 77.9h.01M379.5 93.0h.01M357.7 95.8h.01M381.6 87.7h.01M358.5 103.9h.01M355.6 105.2h.01M349.5 111.8h.01M378.5 97.3h.01M373.1 100.0h.01M365.9 94.2h.01M360.1 97.0h.01M386.5 77.0h.01M363.1 99.8h.01M369.2 112.1h.01M377.6 73.8h.01M378.0 70.0h.01M372.7 90.5h.01M350.1 119.1h.01M363.7 104.5h.01M380.4 90.8h.01M379.6 103.9h.01M386.2 74.1h.01M351.9 112.0h.01M369.8 80.1h.01M363.9 105.3h.01M389.0 81.8h.01M368.0 96.0h.01M387.2 87.0h.01M362.7 104.7h.01M360.7 120.6h.01M358.8 112.0h.01M358.3 99.9h.01M355.4 107.1h.01M376.8 74.1h.01M377.5 71.5h.01M374.3 93.4h.01M362.1 113.1h.01M377.5 105.2h.01M361.9 104.9h.01M385.6 75.8h.01M368.6 87.5h.01M380.1 93.4h.01M367.2 102.8h.01M344.3 120.3h.01M364.3 108.9h.01M359.8 113.0h.01M365.8 83.8h.01M374.5 97.6h.01M361.4 107.1h.01M363.8 99.6h.01M386.0 73.6h.01M366.9 115.6h.01M366.5 114.2h.01M375.7 106.2h.01M356.8 100.7h.01M362.1 99.1h.01M380.2 92.5h.01M384.4 68.3h.01M346.4 116.7h.01M361.6 89.2h.01M378.9 102.7h.01M373.9 101.3h.01M369.9 100.3h.01M367.1 101.4h.01M379.6 81.1h.01M362.9 100.6h.01M371.3 100.1h.01M366.8 93.2h.01M376.8 99.4h.01M365.8 96.3h.01M377.5 79.3h.01M375.8 101.2h.01M371.3 93.1h.01M371.9 98.9h.01M356.6 107.6h.01M350.3 98.1h.01M360.5 112.0h.01M366.1 88.2h.01M366.7 109.7h.01M350.8 104.0h.01M364.3 85.5h.01M377.4 90.3h.01M351.8 121.0h.01M389.8 74.1h.01M364.9 90.8h.01M372.8 100.9h.01M375.6 76.1h.01M368.7 93.3h.01M359.5 100.9h.01M393.4 65.5h.01M361.6 113.6h.01M366.0 94.8h.01M382.3 87.0h.01M360.9 112.9h.01M361.1 90.6h.01M369.1 86.3h.01M395.8 62.7h.01M357.1 105.5h.01M370.9 97.8h.01M368.8 79.7h.01M374.2 97.8h.01M359.6 114.8h.01M373.9 89.9h.01M365.0 89.1h.01M375.1 90.1h.01M380.5 78.9h.01M384.2 84.8h.01M374.3 90.3h.01M376.9 94.7h.01M355.5 108.8h.01M375.0 103.4h.01M362.1 84.0h.01M360.8 97.3h.01M373.3 96.6h.01M353.7 101.0h.01M390.9 78.6h.01M389.1 62.7h.01M366.0 101.5h.01M370.4 87.1h.01M365.3 97.4h.01M385.3 80.0h.01M374.5 89.8h.01M369.2 93.5h.01M377.2 107.4h.01M371.5 94.4h.01M354.1 105.4h.01M381.9 90.7h.01M365.5 108.7h.01M381.7 93.7h.01M379.6 101.3h.01M378.3 77.8h.01M374.6 100.4h.01M386.9 86.9h.01M359.4 108.2h.01M378.1 88.9h.01M353.8 87.2h.01M369.6 91.2h.01M378.9 102.1h.01M372.6 76.6h.01M344.4 120.6h.01M375.0 92.9h.01M355.5 118.0h.01M391.2 86.4h.01M339.4 115.2h.01M358.7 109.5h.01M354.7 121.5h.01M382.8 69.2h.01M355.1 112.9h.01M379.9 101.9h.01M369.8 108.3h.01M351.8 121.9h.01M354.3 90.2h.01M377.0 86.7h.01M369.6 100.0h.01M379.4 82.3h.01M365.6 100.5h.01M384.1 108.0h.01M364.6 100.2h.01M369.5 87.6h.01M392.8 71.8h.01M372.7 90.0h.01M370.8 92.2h.01M362.5 103.8h.01M364.9 109.0h.01M387.8 77.6h.01M351.8 106.0h.01M358.9 107.6h.01M371.0 99.2h.01M363.0 99.8h.01M397.6 74.6h.01M369.6 87.3h.01M379.6 87.8h.01M366.2 118.6h.01M369.7 110.7h.01M374.7 90.1h.01M392.7 78.0h.01M356.4 105.5h.01M345.3 111.2h.01M383.7 85.3h.01M388.6 76.8h.01M368.5 102.5h.01M344.5 125.2h.01M388.1 78.1h.01M365.4 96.6h.01M385.0 83.0h.01M373.3 99.8h.01M365.4 100.7h.01M368.5 105.2h.01M378.8 69.5h.01M382.9 73.9h.01M367.3 115.3h.01M391.5 73.5h.01M365.3 100.5h.01M348.7 109.0h.01M371.7 97.4h.01M372.3 100.5h.01M362.2 91.5h.01M367.0 104.5h.01M368.7 102.0h.01M366.8 103.8h.01M368.7 87.2h.01M363.2 108.9h.01M359.9 94.0h.01M375.1 103.8h.01M385.6 79.3h.01M369.0 86.5h.01M374.8 102.7h.01M381.4 93.4h.01M371.7 88.1h.01M392.5 90.3h.01M371.2 85.4h.01M392.0 73.5h.01M390.8 82.8h.01M359.2 87.6h.01M369.8 105.4h.01M379.8 84.1h.01M375.8 89.1h.01M364.0 93.0h.01M354.6 116.8h.01M344.0 115.9h.01M369.6 87.6h.01M376.8 84.0h.01M373.6 80.5h.01M362.4 119.2h.01M375.9 77.1h.01M360.5 100.1h.01M373.0 89.6h.01M374.8 90.5h.01M364.4 109.7h.01M366.9 107.0h.01M344.9 122.2h.01M357.8 106.6h.01M349.5 120.0h.01M378.7 93.4h.01M373.9 97.9h.01M378.1 81.9h.01M364.7 83.2h.01M372.5 112.8h.01M378.3 95.2h.01M366.7 102.2h.01M378.5 89.3h.01M371.2 89.8h.01M354.1 105.2h.01M368.5 94.7h.01M369.6 94.4h.01M363.6 97.6h.01M373.6 78.4h.01M388.2 72.1h.01M368.4 103.1h.01M363.7 98.7h.01M344.4 125.8h.01M359.1 89.6h.01M364.1 101.0h.01M344.7 124.1h.01M367.7 87.4h.01M368.9 81.4h.01M363.5 107.3h.01M362.1 97.8h.01M361.1 110.7h.01M376.8 84.3h.01M355.5 118.5h.01M364.9 98.8h.01M385.5 64.3h.01M370.2 95.0h.01M373.9 88.5h.01M371.3 100.5h.01M354.5 109.8h.01M367.8 94.9h.01M378.6 94.0h.01M363.6 114.1h.01M377.4 94.5h.01M389.0 83.6h.01M384.3 83.6h.01M355.4 120.0h.01M362.8 112.4h.01M353.4 118.9h.01M382.6 82.1h.01M377.6 88.5h.01M389.0 96.1h.01M360.0 107.7h.01M355.6 110.5h.01M369.2 93.6h.01M371.0 94.5h.01M361.3 108.3h.01M366.5 89.7h.01M368.4 79.7h.01M374.0 94.1h.01M350.8 103.4h.01M347.0 125.0h.01M367.7 100.0h.01M377.1 98.4h.01M374.6 106.0h.01M366.8 103.1h.01M359.6 103.0h.01M372.9 81.9h.01M365.8 93.6h.01M371.6 94.5h.01M349.5 100.7h.01M363.2 104.5h.01M371.8 93.8h.01M361.4 111.8h.01M354.1 111.4h.01M366.7 100.8h.01M380.4 77.2h.01M370.1 91.7h.01M378.7 69.7h.01M369.1 98.2h.01M373.5 106.2h.01M354.8 115.1h.01M365.1 105.1h.01M382.0 73.2h.01M380.2 97.3h.01M374.9 83.3h.01M381.7 89.8h.01M370.4 96.5h.01M363.3 94.9h.01M376.0 98.5h.01M377.8 87.2h.01M376.1 90.6h.01M377.7 91.3h.01M371.7 93.9h.01M359.5 104.7h.01M369.1 101.3h.01M357.4 106.9h.01M381.8 83.0h.01M342.9 121.2h.01M360.7 93.0h.01M394.3 61.8h.01M363.8 98.6h.01M357.1 111.1h.01M375.2 100.9h.01M377.1 72.3h.01M368.7 98.6h.01M367.0 79.2h.01M366.4 90.6h.01M363.4 98.9h.01M362.4 87.8h.01M364.5 103.7h.01M364.7 102.8h.01M373.8 90.5h.01M371.0 87.4h.01M388.6 94.2h.01M370.9 93.5h.01M349.7 111.6h.01M383.7 95.6h.01M369.2 102.5h.01M365.0 98.3h.01M358.4 120.3h.01M364.1 104.2h.01M364.6 108.1h.01M370.6 97.4h.01M348.7 111.2h.01M375.0 99.1h.01M372.2 95.0h.01M352.6 106.9h.01M359.4 101.3h.01M364.5 111.1h.01M378.7 82.5h.01M369.0 103.1h.01M351.6 118.5h.01M358.1 95.7h.01M382.6 87.3h.01M367.0 108.0h.01M375.5 97.6h.01M367.7 113.5h.01M393.9 71.8h.01M384.0 87.0h.01M390.1 87.3h.01M353.5 112.4h.01M365.3 117.4h.01M390.2 88.5h.01M371.3 101.6h.01M375.4 106.6h.01M377.7 94.9h.01M351.6 109.2h.01M384.0 90.2h.01M371.7 97.0h.01M377.4 91.3h.01M363.0 105.5h.01M382.0 94.5h.01M364.4 107.5h.01M377.8 80.6h.01M385.1 83.0h.01M383.8 86.8h.01M372.6 86.3h.01M375.3 85.9h.01M376.8 82.6h.01M368.4 101.0h.01M375.7 98.7h.01M375.3 107.2h.01M359.5 119.1h.01M368.5 107.1h.01M382.7 91.8h.01M392.3 82.5h.01M361.2 102.8h.01M362.8 110.7h.01M388.1 78.1h.01M359.3 107.2h.01M391.7 66.8h.01M368.3 93.3h.01M358.7 106.6h.01M375.7 78.1h.01M391.8 75.6h.01M353.5 114.9h.01M388.3 75.8h.01M368.3 101.1h.01M390.3 79.2h.01M363.0 98.7h.01M351.5 116.5h.01M368.5 83.0h.01M370.5 75.0h.01M385.2 60.6h.01M396.7 79.2h.01M369.7 79.6h.01M369.4 101.0h.01M370.7 108.7h.01M364.5 98.1h.01M367.9 113.4h.01M375.2 106.9h.01M382.8 102.9h.01M372.5 98.8h.01M381.1 88.0h.01M362.5 100.6h.01M370.6 83.4h.01M350.2 107.2h.01M373.6 113.1h.01M346.2 118.6h.01M386.4 76.9h.01M373.8 85.6h.01M357.2 112.1h.01M368.3 95.9h.01M379.1 81.9h.01M370.2 84.7h.01M368.0 85.4h.01M356.9 104.5h.01M364.1 105.6h.01M380.6 102.9h.01M385.4 88.0h.01M368.8 114.2h.01M359.4 112.8h.01M382.8 80.6h.01M353.4 103.2h.01M382.4 81.8h.01M363.1 84.4h.01M378.8 83.2h.01M397.4 79.4h.01M379.5 88.2h.01M384.1 90.2h.01M357.8 106.7h.01M355.9 99.9h.01M375.3 85.7h.01M385.9 74.2h.01M391.5 82.4h.01M405.6 73.2h.01M370.3 89.1h.01M370.8 92.0h.01M381.0 82.2h.01M368.7 94.5h.01M363.7 92.0h.01M358.5 110.3h.01M383.1 84.4h.01M359.6 111.8h.01M370.5 84.6h.01M353.3 114.4h.01M374.8 74.8h.01M362.5 113.3h.01M375.2 80.9h.01M350.7 116.1h.01M363.0 100.2h.01M381.0 78.2h.01M356.1 102.6h.01M362.9 88.3h.01M372.5 109.2h.01M344.8 127.7h.01M374.9 93.1h.01M384.6 98.6h.01M357.0 110.4h.01M379.2 90.7h.01M361.1 106.7h.01M364.0 114.1h.01M372.5 98.0h.01M363.8 106.4h.01M395.2 64.8h.01M353.6 117.8h.01M383.9 90.9h.01M372.0 74.9h.01M346.9 121.8h.01M348.4 117.4h.01M375.2 87.5h.01M355.7 94.7h.01M377.9 93.9h.01M379.4 77.7h.01M364.9 100.2h.01M355.7 108.2h.01M331.3 125.7h.01M370.5 91.7h.01M351.2 101.2h.01M369.5 88.3h.01M371.4 91.8h.01M354.3 114.4h.01M390.1 73.5h.01M381.9 81.3h.01M389.6 93.3h.01M358.6 113.5h.01M359.9 96.7h.01M361.1 101.0h.01M362.4 99.0h.01M356.5 110.3h.01M372.4 88.0h.01M368.9 89.7h.01M381.8 97.8h.01M364.6 103.0h.01M383.4 77.7h.01M371.2 92.7h.01M369.1 110.1h.01M371.7 98.8h.01M386.3 87.8h.01M352.6 87.9h.01M368.8 100.7h.01M367.4 109.1h.01M386.7 95.1h.01M365.2 102.2h.01M355.5 97.4h.01M364.3 108.3h.01M373.8 86.4h.01M355.9 96.2h.01M348.2 115.9h.01M382.1 92.0h.01M367.6 110.1h.01M377.5 94.2h.01M369.7 87.1h.01M395.4 90.1h.01M376.8 77.7h.01M363.2 103.4h.01M361.7 92.7h.01M361.4 118.4h.01M391.4 75.7h.01M379.3 93.8h.01M386.5 78.1h.01M366.2 100.1h.01M347.5 124.0h.01M379.1 68.5h.01M375.8 98.8h.01M375.8 98.0h.01M369.0 93.9h.01M377.5 87.6h.01M377.6 90.3h.01M359.1 123.4h.01M384.6 83.5h.01M364.3 103.3h.01M362.5 100.3h.01M383.1 67.4h.01M378.0 81.6h.01M366.6 100.9h.01M347.8 119.7h.01M372.4 94.3h.01M379.7 92.0h.01M371.3 98.9h.01M357.2 113.7h.01M364.1 109.2h.01M356.7 113.5h.01M372.5 93.2h.01M381.7 87.2h.01M374.1 75.8h.01M367.5 110.8h.01M367.1 88.0h.01M380.4 92.1h.01M364.4 103.0h.01M373.5 102.5h.01M394.7 68.2h.01M368.3 89.8h.01M385.2 88.7h.01M366.1 102.7h.01M371.2 96.1h.01M351.0 119.2h.01M374.5 100.5h.01M387.6 83.6h.01M395.3 69.3h.01M376.9 74.3h.01M376.3 85.5h.01M371.3 95.9h.01M371.5 111.2h.01M370.1 99.8h.01M376.8 87.7h.01M366.7 111.3h.01M380.4 83.4h.01M358.8 109.1h.01M350.6 120.4h.01M351.9 103.7h.01M355.5 122.0h.01M356.5 116.0h.01M381.9 80.1h.01M362.8 94.4h.01M373.7 94.2h.01M389.9 86.4h.01M381.8 77.0h.01M359.7 98.7h.01M387.4 80.3h.01M367.4 84.9h.01M360.2 87.5h.01M373.3 88.6h.01M350.8 112.4h.01M360.0 105.5h.01M366.5 95.5h.01M378.7 89.5h.01M365.0 100.3h.01M366.1 95.6h.01M379.3 81.6h.01M389.3 80.0h.01M383.4 89.8h.01M388.9 83.0h.01M368.8 104.3h.01M351.8 87.3h.01M369.4 88.1h.01M365.4 99.0h.01M365.4 103.7h.01M381.8 68.0h.01M374.4 104.5h.01M360.6 110.2h.01M373.0 87.3h.01M392.0 72.6h.01M369.6 93.8h.01M380.9 77.0h.01M367.6 104.0h.01M362.6 101.0h.01M356.0 99.8h.01M365.7 95.6h.01M390.8 71.5h.01M352.1 107.3h.01M394.7 79.5h.01M353.8 105.3h.01M375.6 106.2h.01M383.9 88.7h.01M373.2 84.2h.01M374.1 93.0h.01M356.8 122.7h.01M373.6 90.7h.01M353.2 105.1h.01M400.2 62.7h.01M376.9 106.9h.01M365.7 87.9h.01M359.7 113.6h.01M364.9 102.6h.01M355.0 112.9h.01M379.8 81.7h.01M365.9 98.5h.01M381.5 92.9h.01M365.2 107.7h.01M360.0 99.0h.01M392.1 85.3h.01M353.3 104.0h.01M352.7 122.7h.01M375.8 91.6h.01M362.7 116.1h.01M366.9 103.5h.01M385.5 88.4h.01M360.8 107.0h.01M384.8 88.5h.01M364.1 106.6h.01M397.1 85.0h.01M382.3 76.0h.01M370.3 107.2h.01M370.0 100.9h.01M361.6 108.0h.01M370.0 91.4h.01M385.5 82.8h.01M347.1 109.6h.01M374.6 78.8h.01M358.4 116.6h.01M353.4 101.6h.01M356.4 125.6h.01M393.2 67.4h.01M372.1 96.5h.01M373.5 93.3h.01M364.5 106.9h.01M381.3 81.1h.01M344.6 122.7h.01M370.1 95.4h.01M400.4 71.2h.01M371.1 105.8h.01M376.3 101.1h.01M379.7 88.8h.01M360.1 106.2h.01M363.0 89.4h.01M384.3 86.1h.01M376.4 97.0h.01M372.8 89.8h.01M370.0 104.1h.01M379.8 97.2h.01M371.4 95.9h.01M391.8 81.2h.01M380.0 87.9h.01M359.7 92.7h.01M340.2 126.8h.01M376.7 85.2h.01M381.4 88.4h.01M355.9 105.0h.01M345.5 121.0h.01M352.9 107.6h.01M380.8 83.9h.01M358.5 110.7h.01M369.5 106.2h.01M376.5 96.5h.01M385.1 80.7h.01M371.2 97.5h.01M369.7 98.1h.01M364.6 104.0h.01M396.0 80.8h.01M371.3 72.4h.01M368.5 96.9h.01M355.8 116.0h.01M366.4 111.2h.01M372.0 84.3h.01M363.7 107.2h.01M384.5 87.9h.01M372.5 89.8h.01M365.0 84.9h.01M376.2 86.2h.01M370.6 85.0h.01M363.5 110.2h.01M362.8 97.3h.01M405.2 72.3h.01M357.2 112.8h.01M361.3 99.4h.01M380.3 80.2h.01M363.6 94.1h.01M362.8 108.6h.01M362.0 119.7h.01M375.5 88.4h.01M386.2 86.4h.01M382.1 74.1h.01M372.4 96.8h.01M392.8 91.5h.01M352.1 104.5h.01M377.9 98.9h.01M367.9 109.9h.01M363.8 86.6h.01M372.4 80.7h.01M378.2 78.3h.01M363.4 113.2h.01M382.9 77.8h.01M364.2 101.9h.01M361.8 112.7h.01M368.9 99.0h.01M354.6 116.5h.01M368.9 95.0h.01M378.8 96.9h.01M364.5 95.9h.01M384.1 95.8h.01M365.2 99.1h.01M366.8 93.1h.01M356.8 117.9h.01M372.9 97.5h.01M351.6 99.8h.01M366.2 103.1h.01M363.1 92.2h.01M368.8 90.5h.01M355.1 121.2h.01M348.5 113.6h.01M368.5 101.7h.01M374.0 88.5h.01M383.2 99.1h.01M380.1 84.1h.01M379.9 74.5h.01M371.0 85.4h.01M366.0 93.0h.01M359.1 110.4h.01M359.5 108.8h.01M369.4 106.3h.01M374.1 93.4h.01M373.4 93.9h.01M371.8 97.5h.01M368.0 97.8h.01M378.9 89.1h.01M376.2 96.6h.01M377.3 95.4h.01M371.4 90.0h.01M356.0 96.5h.01M354.8 106.7h.01M377.2 90.9h.01M363.8 81.0h.01M365.6 97.3h.01M367.6 103.5h.01M393.8 63.9h.01M356.5 101.9h.01M375.7 106.0h.01M379.6 98.2h.01M355.9 110.5h.01M377.6 99.9h.01M396.8 77.5h.01M375.8 79.4h.01M389.7 98.4h.01M372.8 84.7h.01M370.4 93.7h.01M376.3 79.2h.01M368.8 98.6h.01M359.5 96.7h.01M371.4 94.8h.01M385.5 88.5h.01M375.0 92.7h.01M376.8 86.3h.01M379.8 76.9h.01M401.4 69.0h.01M384.2 77.4h.01M367.6 101.3h.01M360.7 107.6h.01M374.0 93.0h.01M358.7 109.1h.01M375.0 83.5h.01M361.6 100.9h.01M383.2 85.2h.01M385.3 77.7h.01M341.7 118.5h.01M370.4 89.5h.01M359.1 102.7h.01M353.8 114.6h.01M363.9 105.0h.01M368.1 99.4h.01M379.1 79.9h.01M352.9 116.4h.01M376.0 76.9h.01M376.8 88.0h.01M368.9 82.4h.01M365.7 92.6h.01M351.2 107.0h.01M379.1 91.5h.01M369.1 86.3h.01M379.8 87.5h.01M397.4 60.2h.01M372.9 81.6h.01M367.9 84.3h.01M390.1 77.3h.01M356.5 115.4h.01M360.6 114.3h.01M374.1 108.3h.01M363.9 105.8h.01M379.3 88.0h.01M365.9 99.8h.01M390.5 73.5h.01M385.9 74.6h.01M374.9 82.4h.01M374.7 109.0h.01M368.7 80.6h.01M380.5 86.3h.01M359.9 111.9h.01M374.8 92.0h.01M373.8 82.9h.01M371.7 92.4h.01M386.0 73.5h.01M379.1 75.8h.01M360.4 106.8h.01M369.6 92.8h.01M358.0 104.9h.01M379.8 91.0h.01M355.3 103.3h.01M382.6 85.5h.01M371.7 88.5h.01M383.1 84.8h.01M368.7 98.2h.01M354.4 116.2h.01M385.8 68.8h.01M364.5 95.2h.01M381.9 74.4h.01M375.7 91.0h.01M381.1 90.0h.01M395.8 76.0h.01M371.6 89.5h.01M386.4 77.8h.01M345.7 109.3h.01M369.9 75.8h.01M363.3 95.8h.01M365.4 95.1h.01M363.0 89.8h.01M365.9 84.4h.01M391.4 76.1h.01M345.1 117.3h.01M362.8 88.8h.01M372.3 114.5h.01M384.1 81.2h.01M363.7 100.3h.01M378.2 92.6h.01M361.9 98.2h.01M384.8 93.3h.01M374.6 76.5h.01M359.5 96.1h.01M369.9 94.7h.01M350.2 111.7h.01M379.8 97.4h.01M372.5 78.3h.01M360.2 100.4h.01M383.8 82.0h.01M348.7 125.5h.01M353.2 124.3h.01M355.5 115.6h.01M374.3 110.9h.01M367.9 93.8h.01M369.8 97.6h.01M373.0 100.1h.01M376.7 85.1h.01M363.1 101.0h.01M353.3 110.8h.01M352.7 109.8h.01M388.9 63.5h.01M340.4 124.8h.01M360.8 92.1h.01M388.2 78.0h.01M368.2 83.2h.01M369.7 114.9h.01M377.5 102.5h.01M384.7 88.7h.01M382.7 79.0h.01M356.9 105.4h.01M384.1 90.6h.01M373.5 93.2h.01M385.0 83.4h.01M382.5 74.6h.01M370.7 104.5h.01M349.6 111.9h.01M374.8 91.0h.01M382.3 65.5h.01M374.7 84.2h.01M374.7 94.7h.01M395.2 62.3h.01M355.9 107.8h.01M383.7 86.9h.01M362.9 103.1h.01M376.0 100.0h.01M359.9 85.2h.01M389.7 78.0h.01M361.3 110.2h.01M356.7 96.8h.01M345.7 111.8h.01M379.3 92.8h.01M359.7 97.7h.01M371.7 87.7h.01M360.2 112.3h.01M364.1 99.3h.01M383.8 83.9h.01M363.8 94.7h.01M378.3 88.7h.01M380.7 93.0h.01M367.2 101.7h.01M342.0 107.9h.01M384.0 85.3h.01M372.0 93.8h.01M376.9 79.2h.01M353.0 127.9h.01M342.9 110.9h.01M356.9 104.9h.01M388.8 88.2h.01M376.0 88.1h.01M363.4 91.0h.01M371.7 94.4h.01M380.0 87.0h.01M368.7 101.9h.01M379.1 94.7h.01M367.3 90.4h.01M346.9 126.7h.01M368.7 103.8h.01M384.1 76.7h.01M361.0 97.4h.01M363.8 93.9h.01M366.2 106.7h.01M367.8 105.3h.01M378.9 77.7h.01M360.6 94.1h.01M363.6 114.2h.01M363.9 104.0h.01M343.6 118.7h.01M340.9 113.1h.01M379.4 85.7h.01M377.0 85.7h.01M354.3 126.8h.01M389.8 93.4h.01M374.2 89.0h.01M365.4 110.2h.01M382.9 90.1h.01M348.8 115.3h.01M352.0 108.3h.01M360.5 121.1h.01M355.4 109.1h.01M379.7 84.1h.01M353.2 112.3h.01M356.0 110.5h.01M356.1 106.0h.01M375.4 96.1h.01M371.5 105.2h.01M377.9 82.9h.01M355.4 99.8h.01M355.2 113.0h.01M357.3 96.6h.01M367.3 92.8h.01M364.6 112.9h.01M383.4 101.2h.01M392.2 73.3h.01M358.2 99.4h.01M373.7 98.3h.01M375.0 69.2h.01M359.1 101.8h.01M366.8 113.1h.01M360.4 113.3h.01M367.9 85.3h.01M368.0 82.7h.01M371.7 101.3h.01M369.8 95.2h.01M381.5 76.8h.01M381.3 86.1h.01M350.9 112.3h.01M360.7 88.7h.01M374.4 97.8h.01M374.8 84.0h.01M362.4 95.1h.01M356.1 99.4h.01M365.3 103.1h.01M345.5 116.5h.01M372.0 98.9h.01M361.4 103.0h.01M379.6 94.2h.01M355.9 108.2h.01M361.5 99.4h.01M349.3 101.4h.01M352.2 106.0h.01M380.6 89.8h.01M377.8 114.3h.01M368.8 85.5h.01M351.8 107.0h.01M372.0 96.3h.01M352.1 120.5h.01M360.8 100.0h.01M363.9 103.2h.01M368.7 82.3h.01M370.0 92.8h.01M371.4 102.1h.01M386.3 91.6h.01M370.7 93.1h.01M374.3 88.2h.01M380.1 88.0h.01M373.5 101.5h.01M368.1 102.1h.01M369.6 89.1h.01M366.1 103.3h.01M378.1 95.0h.01M378.7 78.9h.01M373.0 79.9h.01M367.2 103.4h.01M356.2 114.8h.01M373.0 100.9h.01M368.2 98.4h.01M379.0 79.3h.01M362.9 99.7h.01M362.2 95.1h.01M373.4 83.0h.01M361.2 100.5h.01M365.2 96.6h.01M393.9 78.1h.01M380.7 71.9h.01M376.2 87.9h.01M369.6 90.6h.01M364.9 115.0h.01M376.8 90.1h.01M368.2 94.2h.01M375.4 96.7h.01M363.6 103.5h.01M366.9 94.7h.01M374.1 104.9h.01M376.0 95.0h.01M393.4 84.3h.01M378.6 96.2h.01M353.8 121.4h.01M358.7 109.8h.01M346.2 113.1h.01M363.4 109.7h.01M376.0 89.3h.01M376.9 93.8h.01M362.4 104.3h.01M369.2 90.2h.01M356.1 102.5h.01M356.2 117.9h.01M359.0 120.1h.01M358.1 106.7h.01M387.5 79.5h.01M360.2 119.6h.01M379.7 76.8h.01M382.9 77.6h.01M362.1 94.5h.01M374.0 101.7h.01M363.4 105.6h.01M366.9 95.0h.01M369.3 81.3h.01M368.5 95.7h.01M385.1 87.2h.01M381.5 79.7h.01M371.2 90.3h.01M375.9 94.7h.01M363.0 92.5h.01M373.4 92.1h.01M359.2 113.6h.01M370.4 88.1h.01M367.8 90.6h.01M360.5 108.9h.01M393.4 67.7h.01M357.1 108.4h.01M360.2 108.8h.01M373.4 93.7h.01M342.9 118.5h.01M357.2 104.4h.01M353.8 118.4h.01M363.2 113.7h.01M373.8 103.6h.01M369.1 89.0h.01M386.8 86.2h.01M381.9 88.9h.01M382.6 80.8h.01M378.1 90.7h.01M367.6 106.0h.01M390.0 88.8h.01M358.9 98.9h.01M364.9 107.0h.01M386.1 75.8h.01M377.3 85.4h.01M376.9 98.2h.01M381.5 89.8h.01M374.7 81.0h.01M352.4 113.5h.01M369.2 98.7h.01M349.4 106.7h.01M374.5 98.3h.01M361.2 105.2h.01M385.5 79.3h.01M376.7 91.1h.01M368.1 114.4h.01M369.2 97.0h.01M353.8 111.2h.01M377.5 102.8h.01M373.2 87.4h.01M369.9 91.1h.01M340.9 116.7h.01M370.2 105.3h.01M376.3 91.0h.01M374.8 94.4h.01M383.2 81.9h.01M353.9 113.1h.01M371.7 86.7h.01M358.3 102.2h.01M373.4 95.7h.01M374.4 91.8h.01M384.4 93.9h.01M359.2 101.3h.01M369.1 92.3h.01M351.3 108.1h.01M359.3 120.7h.01M370.0 84.5h.01M372.1 100.4h.01M357.1 123.6h.01M358.9 107.3h.01M372.7 99.2h.01M377.5 67.8h.01M379.4 81.3h.01M370.9 79.7h.01M349.5 120.9h.01M368.1 98.0h.01M371.2 87.4h.01M378.0 95.1h.01M375.6 92.5h.01M364.2 97.7h.01M387.0 71.4h.01M379.5 71.4h.01M367.3 97.2h.01M367.5 117.9h.01M389.5 66.7h.01M364.8 105.6h.01M380.5 78.7h.01M394.7 74.5h.01M360.4 110.9h.01M371.5 91.9h.01M357.2 94.4h.01M372.8 87.9h.01M378.3 97.1h.01M390.4 70.0h.01M378.8 91.3h.01M367.0 94.9h.01M373.7 74.5h.01M368.0 101.9h.01M366.5 102.8h.01M392.3 64.8h.01M358.2 106.1h.01M364.9 104.3h.01M367.1 93.8h.01M358.7 112.0h.01M344.2 123.8h.01M370.7 73.6h.01M359.6 106.5h.01M360.3 101.5h.01M361.2 98.4h.01M359.8 111.2h.01M354.7 109.0h.01M373.5 96.7h.01M401.6 69.2h.01M378.3 87.5h.01M370.8 80.8h.01M348.7 113.8h.01M373.0 100.6h.01M354.5 111.3h.01M374.4 83.3h.01M366.2 99.4h.01M371.9 98.1h.01M369.4 98.9h.01M365.4 106.9h.01M348.1 113.6h.01M374.6 88.0h.01M352.3 114.0h.01M355.6 112.2h.01M356.4 92.5h.01M360.1 105.1h.01M366.2 88.0h.01M387.0 88.7h.01M379.1 99.4h.01M379.0 100.6h.01M373.1 99.5h.01M376.9 83.5h.01M352.4 124.9h.01M372.5 91.1h.01M361.3 111.4h.01M351.1 109.5h.01M366.7 94.4h.01M366.9 103.6h.01M383.9 95.9h.01M381.7 82.0h.01M380.8 108.4h.01M385.9 65.8h.01M379.1 85.1h.01M381.5 73.9h.01M369.8 94.8h.01M350.4 113.6h.01M356.1 111.3h.01M381.7 91.0h.01M384.4 87.7h.01M362.0 107.4h.01M366.2 100.3h.01M372.8 93.7h.01M349.8 120.4h.01M367.8 103.6h.01M387.8 75.3h.01M396.5 69.7h.01M362.1 93.1h.01M393.8 75.6h.01M371.1 110.4h.01M360.8 108.2h.01M337.3 120.9h.01M386.3 89.3h.01M363.5 100.4h.01M372.1 91.5h.01M374.1 96.6h.01M350.3 122.1h.01M392.0 81.7h.01M367.9 103.9h.01M368.0 99.3h.01M335.1 118.2h.01M374.9 80.1h.01M381.4 84.3h.01M365.4 107.4h.01M365.7 91.5h.01M371.0 89.1h.01M382.4 85.8h.01M361.9 87.9h.01M380.3 66.3h.01M365.5 99.0h.01M363.5 105.7h.01M361.8 101.0h.01M329.9 121.4h.01M360.2 107.5h.01M374.9 78.2h.01M375.3 95.7h.01M359.5 107.1h.01M374.5 93.1h.01M349.1 125.9h.01M363.7 98.4h.01M379.0 92.9h.01M382.9 92.3h.01M362.2 108.5h.01M385.7 89.8h.01M387.9 69.5h.01M368.5 105.9h.01M379.0 87.9h.01M347.1 113.4h.01M346.5 122.3h.01M374.0 86.5h.01M367.3 93.9h.01M372.0 94.4h.01M367.4 108.5h.01M364.5 99.3h.01M379.2 86.4h.01M382.4 68.2h.01M367.3 99.9h.01M355.6 123.0h.01M387.6 82.9h.01M378.4 90.5h.01M374.8 85.6h.01M367.1 90.4h.01M395.5 65.5h.01M364.2 90.4h.01M369.7 85.0h.01M352.4 124.8h.01M358.6 100.7h.01M369.6 112.7h.01M362.6 91.5h.01M375.3 93.7h.01M355.5 102.0h.01M390.0 74.4h.01M352.5 106.7h.01M364.4 102.8h.01M371.4 92.9h.01M353.0 111.4h.01M378.2 91.1h.01M383.4 94.1h.01M363.4 98.2h.01M395.2 74.8h.01M370.7 95.9h.01M372.4 92.8h.01M368.2 117.9h.01M340.4 110.4h.01M359.1 102.3h.01M357.5 93.8h.01M362.7 101.4h.01M377.1 85.6h.01M357.9 113.0h.01M356.5 127.8h.01M390.6 83.9h.01M360.9 102.4h.01M365.6 105.3h.01M364.2 117.7h.01M380.4 85.4h.01M365.6 102.9h.01M374.2 95.6h.01M339.3 117.7h.01M379.1 78.0h.01M375.4 92.7h.01M378.1 91.4h.01M379.4 76.7h.01M365.7 97.9h.01M366.9 98.4h.01M376.9 86.5h.01M377.4 93.7h.01M367.0 100.3h.01M370.6 96.7h.01M357.2 97.8h.01M372.8 83.0h.01M381.5 85.5h.01M362.3 90.3h.01M392.1 72.7h.01M348.8 114.4h.01M363.0 96.5h.01M391.9 76.4h.01M361.5 99.5h.01M347.2 114.5h.01M382.3 75.5h.01M375.9 89.6h.01M368.0 123.1h.01M368.7 78.0h.01M357.5 110.1h.01M352.9 113.4h.01M371.9 102.3h.01M362.2 101.5h.01M345.6 101.5h.01M371.1 106.6h.01M352.9 105.6h.01M369.8 95.5h.01M362.9 91.5h.01M373.0 82.4h.01M361.9 100.6h.01M357.9 117.6h.01M358.0 117.3h.01M363.8 97.5h.01M389.3 78.1h.01M377.4 83.8h.01M362.5 105.5h.01M380.9 84.6h.01M358.8 114.3h.01M378.2 80.7h.01M364.4 101.1h.01M379.2 87.2h.01M376.9 88.6h.01M362.6 97.1h.01M380.9 98.9h.01M355.0 108.9h.01M371.9 100.5h.01M382.7 82.9h.01M367.6 78.7h.01M379.6 103.3h.01M356.8 109.1h.01M376.0 77.6h.01M350.9 119.0h.01M370.3 116.0h.01M375.7 93.7h.01M349.9 107.7h.01M384.9 74.3h.01M387.9 87.2h.01M356.5 98.6h.01M362.1 103.2h.01M352.9 112.9h.01M363.0 123.5h.01M373.1 89.5h.01M382.4 93.3h.01M370.3 89.2h.01M368.8 89.8h.01M367.4 107.8h.01M376.3 94.1h.01M344.6 109.3h.01M372.3 98.9h.01M389.2 79.4h.01M381.8 76.5h.01M365.0 103.5h.01M366.7 102.0h.01M383.0 76.3h.01M387.2 70.5h.01M349.1 113.7h.01M363.2 101.1h.01M366.0 88.2h.01M383.1 80.1h.01M353.0 101.8h.01M377.0 88.2h.01M365.5 100.1h.01M392.0 60.9h.01M378.1 94.1h.01M376.5 105.8h.01M371.4 106.1h.01M375.3 77.1h.01M382.9 92.4h.01M357.9 111.7h.01M371.6 93.4h.01M351.3 111.9h.01M360.6 106.5h.01M360.7 119.1h.01M356.5 116.2h.01M359.6 104.0h.01M355.0 106.9h.01M373.5 87.8h.01M381.1 88.2h.01M375.0 106.9h.01M351.7 107.2h.01M378.6 85.8h.01M344.3 121.9h.01M343.7 119.2h.01M379.5 88.3h.01M379.4 89.9h.01M374.2 78.0h.01M362.2 95.3h.01M360.2 117.9h.01M364.9 104.5h.01M378.2 91.0h.01M358.3 104.7h.01M359.5 104.3h.01M355.4 116.8h.01M353.7 110.0h.01M374.0 80.9h.01M374.6 90.4h.01M360.0 115.4h.01M352.3 106.8h.01M367.6 108.0h.01M378.8 91.9h.01M352.0 108.6h.01M367.4 98.7h.01M344.5 124.8h.01M357.7 115.6h.01M377.2 93.5h.01M373.8 79.5h.01M350.0 106.6h.01M365.1 110.7h.01M379.0 86.3h.01M366.7 103.3h.01M364.6 104.9h.01M382.2 95.5h.01M366.2 89.2h.01M387.0 85.9h.01M374.8 82.7h.01M366.0 106.9h.01M374.0 103.2h.01M362.4 91.9h.01M355.6 116.0h.01M356.9 108.3h.01M379.2 82.4h.01M351.3 117.7h.01M376.1 79.1h.01M368.3 88.9h.01M370.7 100.8h.01M379.3 92.6h.01M372.3 87.9h.01M376.7 74.7h.01M375.1 110.7h.01M371.7 103.7h.01M368.1 101.1h.01M386.4 67.4h.01M377.6 81.6h.01M359.8 109.6h.01M361.2 97.1h.01M368.4 112.0h.01M370.1 96.8h.01M373.6 95.1h.01M391.1 62.0h.01M344.3 117.1h.01M377.7 79.7h.01M375.6 91.7h.01M360.1 104.7h.01M366.4 97.3h.01M365.1 104.2h.01M371.0 96.6h.01M387.6 88.8h.01M351.1 115.8h.01M380.0 75.0h.01M365.1 101.3h.01M393.2 82.1h.01M371.7 88.8h.01M383.8 80.2h.01M374.3 87.5h.01M383.7 83.5h.01M371.2 96.6h.01M356.3 104.3h.01M376.1 86.5h.01M381.8 90.6h.01M398.4 72.7h.01M350.5 126.5h.01M371.0 102.3h.01M380.1 81.0h.01M353.4 111.6h.01M371.0 102.9h.01M388.5 63.7h.01M385.5 77.3h.01M351.1 100.8h.01M384.1 75.9h.01M379.9 77.9h.01M373.0 81.3h.01M376.4 93.5h.01M368.9 90.3h.01M357.9 106.4h.01M362.4 102.1h.01M374.6 83.7h.01M377.5 99.9h.01M388.5 69.9h.01M366.5 101.5h.01M336.1 123.1h.01M363.6 98.9h.01M371.3 91.3h.01M372.5 90.0h.01M367.7 93.1h.01M360.7 107.7h.01M393.6 82.5h.01M361.3 104.5h.01M377.1 86.3h.01M364.5 98.5h.01M367.1 121.9h.01M392.9 83.7h.01M362.9 110.2h.01M371.3 87.8h.01M364.8 100.4h.01M379.1 87.1h.01M369.0 98.0h.01M360.6 98.9h.01M390.9 64.6h.01M369.4 101.1h.01M369.2 99.5h.01M347.8 102.4h.01M361.4 106.4h.01M382.7 92.5h.01M373.2 86.2h.01M370.7 97.1h.01M355.1 99.8h.01M381.2 90.3h.01M345.1 114.4h.01M360.1 95.9h.01M365.3 98.3h.01M370.5 116.5h.01M368.7 91.8h.01M356.4 100.1h.01M362.5 108.5h.01M391.3 73.1h.01M385.5 92.7h.01M377.8 75.3h.01M363.2 89.3h.01M379.3 82.1h.01M380.3 87.2h.01M385.2 81.4h.01M401.7 68.9h.01M360.5 93.3h.01M369.0 89.4h.01M368.6 96.2h.01M355.9 116.3h.01M368.1 94.1h.01M372.5 83.7h.01M367.1 107.0h.01M387.0 84.6h.01M396.6 89.4h.01M364.3 100.8h.01M393.3 83.4h.01M384.5 68.1h.01M372.7 87.7h.01M355.6 106.3h.01M384.6 74.7h.01M364.0 94.7h.01M363.1 98.8h.01M370.9 94.2h.01M361.7 101.3h.01M385.1 84.3h.01M378.4 85.3h.01M383.8 79.8h.01M383.1 93.9h.01M362.2 107.6h.01M368.7 98.6h.01M379.8 84.2h.01M365.5 101.5h.01M405.9 59.5h.01M363.5 96.0h.01M368.2 108.0h.01M390.0 86.7h.01M383.6 90.4h.01M367.4 94.4h.01M360.1 92.8h.01M372.8 88.6h.01M380.1 85.4h.01M382.3 89.0h.01M365.6 99.2h.01M373.5 89.0h.01M386.3 90.6h.01M375.7 83.2h.01M363.7 111.1h.01M355.1 101.0h.01M368.5 100.0h.01M369.4 91.4h.01M376.2 80.0h.01M368.7 80.6h.01M361.4 91.5h.01M372.0 97.2h.01M388.3 71.1h.01M364.1 105.0h.01M368.6 87.8h.01M386.4 73.9h.01M372.6 90.3h.01M339.6 117.0h.01M366.8 84.5h.01M367.4 102.7h.01M369.2 97.9h.01M377.8 78.4h.01M374.8 89.3h.01M369.8 101.9h.01M388.2 91.1h.01M370.9 86.7h.01M373.8 96.9h.01M382.7 100.1h.01M373.1 92.8h.01M372.5 106.0h.01M353.1 92.0h.01M376.6 101.1h.01M358.9 108.5h.01M347.1 105.3h.01M388.2 81.7h.01M371.8 103.1h.01M375.0 100.9h.01M373.7 102.3h.01M370.0 95.5h.01M366.8 92.7h.01M368.6 93.2h.01M360.5 106.4h.01M382.3 85.1h.01M359.8 103.2h.01M381.9 82.4h.01M351.8 124.7h.01M359.2 111.2h.01M391.4 91.6h.01M377.8 106.2h.01M357.1 100.3h.01M371.6 88.7h.01M352.1 104.7h.01M365.6 90.4h.01M346.9 127.3h.01M360.3 98.0h.01M357.8 100.5h.01M374.8 87.7h.01M383.5 87.4h.01M358.5 105.8h.01M386.7 73.2h.01M367.2 107.3h.01M348.4 124.9h.01M391.7 79.2h.01M364.4 93.1h.01M363.4 105.3h.01M358.5 103.3h.01M361.9 114.3h.01M389.0 81.1h.01M364.3 93.0h.01M396.3 77.4h.01M362.4 94.0h.01M380.5 85.5h.01M361.8 97.4h.01M362.2 94.7h.01M386.5 74.0h.01M366.7 99.3h.01M380.0 77.8h.01M372.3 98.1h.01M355.0 100.4h.01M375.6 89.1h.01M363.0 103.8h.01M375.6 72.4h.01M382.2 84.4h.01M364.9 90.2h.01M365.7 78.2h.01M373.6 86.0h.01M365.7 98.6h.01M384.2 87.5h.01M365.1 97.0h.01M383.5 93.4h.01M365.4 114.0h.01M375.9 98.8h.01M380.5 95.5h.01M362.4 107.7h.01M362.6 99.2h.01M366.7 105.4h.01M382.6 90.0h.01M362.7 106.3h.01M373.8 89.1h.01M380.4 69.6h.01M377.0 93.7h.01M353.0 118.5h.01M365.5 89.1h.01M382.3 82.4h.01M369.9 102.4h.01M382.2 80.7h.01M380.5 90.6h.01M378.1 93.1h.01M360.4 93.5h.01M362.7 101.4h.01M369.2 101.0h.01M374.8 98.5h.01M382.3 94.3h.01M366.2 82.8h.01M366.2 99.5h.01M373.9 97.7h.01M379.9 95.4h.01M358.9 123.8h.01M357.0 102.3h.01M359.2 104.9h.01M362.9 94.3h.01M370.5 102.5h.01M361.1 94.0h.01M365.3 111.8h.01M381.9 90.4h.01" stroke="#7189b6" stroke-width="0.9" stroke-linecap="round" opacity="0.5" fill="none"/>
<path d="M349.3 139.6h.01M336.1 141.3h.01M343.5 137.3h.01M350.5 146.0h.01M339.9 143.2h.01M345.7 147.5h.01M346.3 139.3h.01M351.2 138.4h.01M348.2 142.7h.01M348.2 137.0h.01M344.7 142.6h.01M346.9 139.8h.01M346.2 140.9h.01M350.4 142.7h.01M346.0 142.0h.01M352.0 147.4h.01M338.5 143.8h.01M352.8 138.1h.01M346.0 144.8h.01M352.4 137.9h.01M347.3 142.2h.01M351.1 138.2h.01M354.2 139.4h.01M344.1 145.8h.01M347.2 140.2h.01M346.0 140.0h.01M347.9 140.2h.01M338.8 141.0h.01M346.0 146.2h.01M345.6 138.4h.01" stroke="#9aaed0" stroke-width="0.8" stroke-linecap="round" opacity="0.5" fill="none"/>
<rect x="55.7" y="56.2" width="115.3" height="115.2" fill="none" stroke="#111" stroke-width="1.6"/>
<line x1="100.2" y1="56.2" x2="100.2" y2="171.4" stroke="#111" stroke-width="1.6"/>
<polyline points="55.7,132.6 100.2,127.6 171.0,130.9" fill="none" stroke="#111" stroke-width="1.6"/>
<text x="113.3" y="48.0" font-size="12" text-anchor="middle" >2 + 7</text>
<text x="60.9" y="68.3" font-size="11" text-anchor="start" >0.03</text>
<text x="164.7" y="68.3" font-size="11" text-anchor="end" >0.051</text>
<text x="60.9" y="166.0" font-size="11" text-anchor="start" >98.9</text>
<text x="164.7" y="166.0" font-size="11" text-anchor="end" >1.00</text>
<rect x="185.1" y="56.2" width="115.3" height="115.2" fill="none" stroke="#111" stroke-width="1.6"/>
<line x1="229.0" y1="56.2" x2="229.0" y2="171.4" stroke="#111" stroke-width="1.6"/>
<polyline points="185.1,133.4 229.0,127.8 300.4,131.1" fill="none" stroke="#111" stroke-width="1.6"/>
<text x="242.8" y="48.0" font-size="12" text-anchor="middle" >12 + 15</text>
<text x="190.3" y="68.3" font-size="11" text-anchor="start" >5.92</text>
<text x="294.1" y="68.3" font-size="11" text-anchor="end" >7.69</text>
<text x="190.3" y="166.0" font-size="11" text-anchor="start" >83.8</text>
<text x="294.1" y="166.0" font-size="11" text-anchor="end" >2.61</text>
<rect x="314.6" y="56.2" width="115.3" height="115.2" fill="none" stroke="#111" stroke-width="1.6"/>
<line x1="359.2" y1="56.2" x2="359.2" y2="171.4" stroke="#111" stroke-width="1.6"/>
<polyline points="314.6,134.0 359.2,127.8 429.9,130.8" fill="none" stroke="#111" stroke-width="1.6"/>
<text x="372.2" y="48.0" font-size="12" text-anchor="middle" >NK</text>
<text x="319.8" y="68.3" font-size="11" text-anchor="start" >22.3</text>
<text x="423.6" y="68.3" font-size="11" text-anchor="end" >76.3</text>
<text x="319.8" y="166.0" font-size="11" text-anchor="start" >1.13</text>
<text x="423.6" y="166.0" font-size="11" text-anchor="end" >0.28</text>
<line x1="43.3" y1="185.3" x2="43.3" y2="141.0" stroke="#111" stroke-width="1.6"/>
<polygon points="43.3,130.4 48.6,143.6 43.3,140.6 38.0,143.6" fill="#111"/>
<line x1="42.5" y1="184.6" x2="85.0" y2="184.6" stroke="#111" stroke-width="1.6"/>
<polygon points="96.9,184.6 83.4,189.9 86.4,184.6 83.4,179.3" fill="#111"/>
<text transform="translate(36.2,177.8) rotate(-90)" class="c" font-size="14" textLength="25.3" lengthAdjust="spacingAndGlyphs">GzmB</text>
<text x="46.3" y="199.5" class="c" font-size="14" textLength="34" lengthAdjust="spacingAndGlyphs">Perforin</text>
<line x1="55.2" y1="283.6" x2="55.2" y2="412.3" stroke="#111" stroke-width="1.8"/>
<line x1="54.3" y1="411.5" x2="239.5" y2="411.5" stroke="#111" stroke-width="1.8"/>
<line x1="50.6" y1="411.5" x2="55.2" y2="411.5" stroke="#111" stroke-width="1.5"/>
<text x="46.6" y="415.7" font-size="12" text-anchor="end" >0</text>
<line x1="50.6" y1="380.8" x2="55.2" y2="380.8" stroke="#111" stroke-width="1.5"/>
<text x="46.6" y="385.0" font-size="12" text-anchor="end" >10</text>
<line x1="50.6" y1="350.1" x2="55.2" y2="350.1" stroke="#111" stroke-width="1.5"/>
<text x="46.6" y="354.3" font-size="12" text-anchor="end" >20</text>
<line x1="50.6" y1="319.4" x2="55.2" y2="319.4" stroke="#111" stroke-width="1.5"/>
<text x="46.6" y="323.6" font-size="12" text-anchor="end" >30</text>
<line x1="50.6" y1="288.7" x2="55.2" y2="288.7" stroke="#111" stroke-width="1.5"/>
<text x="46.6" y="292.9" font-size="12" text-anchor="end" >40</text>
<line x1="70.6" y1="411.5" x2="70.6" y2="415.8" stroke="#111" stroke-width="1.5"/>
<line x1="101.0" y1="411.5" x2="101.0" y2="415.8" stroke="#111" stroke-width="1.5"/>
<line x1="131.3" y1="411.5" x2="131.3" y2="415.8" stroke="#111" stroke-width="1.5"/>
<line x1="162.6" y1="411.5" x2="162.6" y2="415.8" stroke="#111" stroke-width="1.5"/>
<line x1="193.0" y1="411.5" x2="193.0" y2="415.8" stroke="#111" stroke-width="1.5"/>
<line x1="224.0" y1="411.5" x2="224.0" y2="415.8" stroke="#111" stroke-width="1.5"/>
<text transform="translate(24,376) rotate(-90)" class="c" font-size="12.5" textLength="47.8" lengthAdjust="spacingAndGlyphs">Total GzmB</text>
<text transform="translate(18.8,323.6) rotate(-90)" font-size="9">+</text>
<line x1="313.4" y1="283.6" x2="313.4" y2="412.3" stroke="#111" stroke-width="1.8"/>
<line x1="312.5" y1="411.4" x2="497.4" y2="411.4" stroke="#111" stroke-width="1.8"/>
<line x1="308.8" y1="411.3" x2="313.4" y2="411.3" stroke="#111" stroke-width="1.5"/>
<text x="304.8" y="415.5" font-size="12" text-anchor="end" >0</text>
<line x1="308.8" y1="386.6" x2="313.4" y2="386.6" stroke="#111" stroke-width="1.5"/>
<text x="304.8" y="390.8" font-size="12" text-anchor="end" >2</text>
<line x1="308.8" y1="362.0" x2="313.4" y2="362.0" stroke="#111" stroke-width="1.5"/>
<text x="304.8" y="366.2" font-size="12" text-anchor="end" >4</text>
<line x1="308.8" y1="337.3" x2="313.4" y2="337.3" stroke="#111" stroke-width="1.5"/>
<text x="304.8" y="341.5" font-size="12" text-anchor="end" >6</text>
<line x1="308.8" y1="312.7" x2="313.4" y2="312.7" stroke="#111" stroke-width="1.5"/>
<text x="304.8" y="316.9" font-size="12" text-anchor="end" >8</text>
<line x1="308.8" y1="288.0" x2="313.4" y2="288.0" stroke="#111" stroke-width="1.5"/>
<text x="304.8" y="292.2" font-size="12" text-anchor="end" >10</text>
<line x1="328.6" y1="411.4" x2="328.6" y2="415.8" stroke="#111" stroke-width="1.5"/>
<line x1="359.6" y1="411.4" x2="359.6" y2="415.8" stroke="#111" stroke-width="1.5"/>
<line x1="390.5" y1="411.4" x2="390.5" y2="415.8" stroke="#111" stroke-width="1.5"/>
<line x1="420.7" y1="411.4" x2="420.7" y2="415.8" stroke="#111" stroke-width="1.5"/>
<line x1="451.2" y1="411.4" x2="451.2" y2="415.8" stroke="#111" stroke-width="1.5"/>
<line x1="482.2" y1="411.4" x2="482.2" y2="415.8" stroke="#111" stroke-width="1.5"/>
<text transform="translate(282,381.6) rotate(-90)" class="c" font-size="12.5" textLength="61" lengthAdjust="spacingAndGlyphs">Totoal perforin</text>
<text transform="translate(276.5,318.8) rotate(-90)" font-size="9">+</text>
<text transform="translate(75.0,421.0) rotate(-90)" font-size="12" text-anchor="end">without K562</text>
<text transform="translate(105.4,421.0) rotate(-90)" font-size="12" text-anchor="end">with K562</text>
<text transform="translate(135.7,421.0) rotate(-90)" font-size="12" text-anchor="end">PMAi</text>
<text transform="translate(167.0,421.0) rotate(-90)" font-size="12" text-anchor="end">without K562</text>
<text transform="translate(197.4,421.0) rotate(-90)" font-size="12" text-anchor="end">with K562</text>
<text transform="translate(228.4,421.0) rotate(-90)" font-size="12" text-anchor="end">PMAi</text>
<text transform="translate(333.0,421.0) rotate(-90)" font-size="12" text-anchor="end">without K562</text>
<text transform="translate(364.0,421.0) rotate(-90)" font-size="12" text-anchor="end">with K562</text>
<text transform="translate(394.9,421.0) rotate(-90)" font-size="12" text-anchor="end">PMAi</text>
<text transform="translate(425.1,421.0) rotate(-90)" font-size="12" text-anchor="end">without K562</text>
<text transform="translate(455.6,421.0) rotate(-90)" font-size="12" text-anchor="end">with K562</text>
<text transform="translate(486.6,421.0) rotate(-90)" font-size="12" text-anchor="end">PMAi</text>
<line x1="68.9" y1="500.0" x2="133.5" y2="500.0" stroke="#111" stroke-width="1.8"/>
<text x="101.4" y="514.8" font-size="12" text-anchor="middle" >2 + 7</text>
<line x1="161.2" y1="500.0" x2="225.3" y2="500.0" stroke="#111" stroke-width="1.8"/>
<text x="193.4" y="514.8" font-size="12" text-anchor="middle" >12 + 15</text>
<line x1="327.7" y1="500.0" x2="391.5" y2="500.0" stroke="#111" stroke-width="1.8"/>
<text x="359.8" y="514.8" font-size="12" text-anchor="middle" >2 + 7</text>
<line x1="419.5" y1="500.0" x2="483.8" y2="500.0" stroke="#111" stroke-width="1.8"/>
<text x="451.8" y="514.8" font-size="12" text-anchor="middle" >12 + 15</text>
<line x1="132.1" y1="235.1" x2="223.8" y2="235.1" stroke="#111" stroke-width="1.8"/>
<polygon points="175.45,224.80 176.16,226.73 178.21,226.80 176.59,228.07 177.15,230.05 175.45,228.90 173.75,230.05 174.31,228.07 172.69,226.80 174.74,226.73" fill="#111"/>
<polygon points="180.45,224.80 181.16,226.73 183.21,226.80 181.59,228.07 182.15,230.05 180.45,228.90 178.75,230.05 179.31,228.07 177.69,226.80 179.74,226.73" fill="#111"/>
<line x1="98.2" y1="251.4" x2="190.0" y2="251.4" stroke="#111" stroke-width="1.8"/>
<polygon points="144.10,241.10 144.81,243.03 146.86,243.10 145.24,244.37 145.80,246.35 144.10,245.20 142.40,246.35 142.96,244.37 141.34,243.10 143.39,243.03" fill="#111"/>
<line x1="70.8" y1="266.8" x2="162.0" y2="266.8" stroke="#111" stroke-width="1.8"/>
<polygon points="113.90,256.70 114.61,258.63 116.66,258.70 115.04,259.97 115.60,261.95 113.90,260.80 112.20,261.95 112.76,259.97 111.14,258.70 113.19,258.63" fill="#111"/>
<polygon points="118.90,256.70 119.61,258.63 121.66,258.70 120.04,259.97 120.60,261.95 118.90,260.80 117.20,261.95 117.76,259.97 116.14,258.70 118.19,258.63" fill="#111"/>
<line x1="70.5" y1="281.7" x2="102.8" y2="281.7" stroke="#111" stroke-width="1.8"/>
<text x="86.7" y="277.3" font-size="11.5" text-anchor="middle" >ns</text>
<line x1="162.0" y1="281.7" x2="194.3" y2="281.7" stroke="#111" stroke-width="1.8"/>
<text x="178.2" y="277.3" font-size="11.5" text-anchor="middle" >ns</text>
<line x1="390.0" y1="235.6" x2="481.5" y2="235.6" stroke="#111" stroke-width="1.8"/>
<text x="435.8" y="231.0" font-size="11.5" text-anchor="middle" >ns</text>
<line x1="359.2" y1="252.5" x2="450.8" y2="252.5" stroke="#111" stroke-width="1.8"/>
<text x="405.0" y="247.7" font-size="11.5" text-anchor="middle" >ns</text>
<line x1="328.9" y1="268.2" x2="420.5" y2="268.2" stroke="#111" stroke-width="1.8"/>
<text x="372.9" y="263.5" font-size="11.5" text-anchor="middle" >0.0821</text>
<line x1="328.9" y1="283.7" x2="361.5" y2="283.7" stroke="#111" stroke-width="1.8"/>
<text x="345.2" y="279.8" font-size="11.5" text-anchor="middle" >ns</text>
<line x1="420.5" y1="284.0" x2="453.0" y2="284.0" stroke="#111" stroke-width="1.8"/>
<polygon points="434.25,274.40 434.96,276.33 437.01,276.40 435.39,277.67 435.95,279.65 434.25,278.50 432.55,279.65 433.11,277.67 431.49,276.40 433.54,276.33" fill="#111"/>
<polygon points="439.25,274.40 439.96,276.33 442.01,276.40 440.39,277.67 440.95,279.65 439.25,278.50 437.55,279.65 438.11,277.67 436.49,276.40 438.54,276.33" fill="#111"/>
<line x1="70.6" y1="403.3" x2="70.6" y2="405.6" stroke="#111" stroke-width="1.5"/>
<line x1="65.3" y1="403.3" x2="75.9" y2="403.3" stroke="#111" stroke-width="1.8"/>
<line x1="101.0" y1="400.8" x2="101.0" y2="402.1" stroke="#111" stroke-width="1.5"/>
<line x1="95.7" y1="400.8" x2="106.3" y2="400.8" stroke="#111" stroke-width="1.8"/>
<line x1="131.3" y1="384.2" x2="131.3" y2="389.4" stroke="#111" stroke-width="1.5"/>
<line x1="126.0" y1="384.2" x2="136.6" y2="384.2" stroke="#111" stroke-width="1.8"/>
<line x1="131.3" y1="399.2" x2="131.3" y2="401.4" stroke="#111" stroke-width="1.5"/>
<line x1="126.0" y1="401.4" x2="136.6" y2="401.4" stroke="#111" stroke-width="1.8"/>
<line x1="162.6" y1="342.9" x2="162.6" y2="346.8" stroke="#111" stroke-width="1.5"/>
<line x1="157.3" y1="342.9" x2="167.9" y2="342.9" stroke="#111" stroke-width="1.8"/>
<line x1="162.6" y1="379.5" x2="162.6" y2="407.0" stroke="#111" stroke-width="1.5"/>
<line x1="157.3" y1="407.0" x2="167.9" y2="407.0" stroke="#111" stroke-width="1.8"/>
<line x1="193.0" y1="340.4" x2="193.0" y2="347.9" stroke="#111" stroke-width="1.5"/>
<line x1="187.7" y1="340.4" x2="198.3" y2="340.4" stroke="#111" stroke-width="1.8"/>
<line x1="193.0" y1="385.6" x2="193.0" y2="407.0" stroke="#111" stroke-width="1.5"/>
<line x1="187.7" y1="407.0" x2="198.3" y2="407.0" stroke="#111" stroke-width="1.8"/>
<line x1="224.0" y1="299.2" x2="224.0" y2="315.2" stroke="#111" stroke-width="1.5"/>
<line x1="218.7" y1="299.2" x2="229.3" y2="299.2" stroke="#111" stroke-width="1.8"/>
<line x1="224.0" y1="378.0" x2="224.0" y2="406.0" stroke="#111" stroke-width="1.5"/>
<line x1="218.7" y1="406.0" x2="229.3" y2="406.0" stroke="#111" stroke-width="1.8"/>
<polyline points="70.6,403.2 101.0,399.8 131.3,383.9 162.6,342.7 193.0,340.6 224.0,299.1" fill="none" stroke="#888" stroke-width="1.4"/>
<polyline points="70.6,405.7 101.0,402.0 131.3,389.1 162.6,348.3 193.0,350.1 224.0,320.9" fill="none" stroke="#888" stroke-width="1.4"/>
<polyline points="70.6,407.5 101.0,404.1 131.3,393.4 162.6,362.4 193.0,362.4 224.0,334.8" fill="none" stroke="#888" stroke-width="1.4"/>
<polyline points="70.6,408.7 101.0,406.0 131.3,395.5 162.6,367.9 193.0,365.4 224.0,343.3" fill="none" stroke="#888" stroke-width="1.4"/>
<polyline points="70.6,410.0 101.0,407.8 131.3,401.1 162.6,371.3 193.0,378.0 224.0,369.1" fill="none" stroke="#888" stroke-width="1.4"/>
<polyline points="70.6,411.2 101.0,410.6 162.6,406.9 193.0,406.9 224.0,405.7" fill="none" stroke="#888" stroke-width="1.4"/>
<circle cx="70.6" cy="403.2" r="2.2" fill="#34558f"/>
<circle cx="101.0" cy="399.8" r="2.2" fill="#6aaa52"/>
<circle cx="131.3" cy="383.9" r="1.3" fill="#4d3f78"/>
<circle cx="162.6" cy="342.7" r="2.2" fill="#eba238"/>
<rect x="190.8" y="338.4" width="4.4" height="4.4" fill="#3d7158"/>
<polygon points="224.0,296.5 221.5,300.9 226.5,300.9" fill="#9d9fd0"/>
<circle cx="70.6" cy="405.7" r="2.2" fill="#34558f"/>
<circle cx="101.0" cy="402.0" r="2.2" fill="#6aaa52"/>
<circle cx="131.3" cy="389.1" r="1.3" fill="#4d3f78"/>
<circle cx="162.6" cy="348.3" r="2.2" fill="#eba238"/>
<rect x="190.8" y="347.9" width="4.4" height="4.4" fill="#3d7158"/>
<polygon points="224.0,318.3 221.5,322.7 226.5,322.7" fill="#9d9fd0"/>
<circle cx="70.6" cy="407.5" r="2.2" fill="#34558f"/>
<circle cx="101.0" cy="404.1" r="2.2" fill="#6aaa52"/>
<circle cx="131.3" cy="393.4" r="1.3" fill="#4d3f78"/>
<circle cx="162.6" cy="362.4" r="2.2" fill="#eba238"/>
<rect x="190.8" y="360.2" width="4.4" height="4.4" fill="#3d7158"/>
<polygon points="224.0,332.1 221.5,336.5 226.5,336.5" fill="#9d9fd0"/>
<circle cx="70.6" cy="408.7" r="2.2" fill="#34558f"/>
<circle cx="101.0" cy="406.0" r="2.2" fill="#6aaa52"/>
<circle cx="131.3" cy="395.5" r="1.3" fill="#4d3f78"/>
<circle cx="162.6" cy="367.9" r="2.2" fill="#eba238"/>
<rect x="190.8" y="363.2" width="4.4" height="4.4" fill="#3d7158"/>
<polygon points="224.0,340.7 221.5,345.1 226.5,345.1" fill="#9d9fd0"/>
<circle cx="70.6" cy="410.0" r="2.2" fill="#34558f"/>
<circle cx="101.0" cy="407.8" r="2.2" fill="#6aaa52"/>
<circle cx="131.3" cy="401.1" r="1.3" fill="#4d3f78"/>
<circle cx="162.6" cy="371.3" r="2.2" fill="#eba238"/>
<rect x="190.8" y="375.8" width="4.4" height="4.4" fill="#3d7158"/>
<polygon points="224.0,366.5 221.5,370.9 226.5,370.9" fill="#9d9fd0"/>
<circle cx="70.6" cy="411.2" r="2.2" fill="#34558f"/>
<circle cx="101.0" cy="410.6" r="2.2" fill="#6aaa52"/>
<circle cx="162.6" cy="406.9" r="2.2" fill="#eba238"/>
<rect x="190.8" y="404.7" width="4.4" height="4.4" fill="#3d7158"/>
<polygon points="224.0,403.0 221.5,407.4 226.5,407.4" fill="#9d9fd0"/>
<rect x="60.1" y="405.6" width="21.0" height="5.0" fill="#a3173e" stroke="#111" stroke-width="1.7"/>
<line x1="61.6" y1="408.1" x2="79.6" y2="408.1" stroke="#e8a0b0" stroke-width="0.8"/>
<rect x="90.5" y="402.1" width="21.0" height="5.8" fill="#a3173e" stroke="#111" stroke-width="1.7"/>
<line x1="92.0" y1="405.0" x2="110.0" y2="405.0" stroke="#e8a0b0" stroke-width="0.8"/>
<rect x="120.8" y="389.4" width="21.0" height="9.8" fill="none" stroke="#111" stroke-width="1.7"/>
<line x1="121.7" y1="393.8" x2="140.9" y2="393.8" stroke="#a3173e" stroke-width="2.4"/>
<rect x="152.1" y="346.8" width="21.0" height="32.7" fill="none" stroke="#111" stroke-width="1.7"/>
<line x1="152.1" y1="364.2" x2="173.1" y2="364.2" stroke="#111" stroke-width="1.6"/>
<line x1="153.0" y1="365.9" x2="172.2" y2="365.9" stroke="#a3173e" stroke-width="2.4"/>
<rect x="182.5" y="347.9" width="21.0" height="37.7" fill="none" stroke="#111" stroke-width="1.7"/>
<line x1="182.5" y1="364.3" x2="203.5" y2="364.3" stroke="#111" stroke-width="1.6"/>
<line x1="183.4" y1="366.3" x2="202.6" y2="366.3" stroke="#a3173e" stroke-width="2.4"/>
<rect x="213.5" y="315.2" width="21.0" height="62.8" fill="none" stroke="#111" stroke-width="1.7"/>
<line x1="213.5" y1="338.9" x2="234.5" y2="338.9" stroke="#111" stroke-width="1.6"/>
<line x1="214.4" y1="345.3" x2="233.6" y2="345.3" stroke="#a3173e" stroke-width="2.4"/>
<line x1="328.6" y1="349.2" x2="328.6" y2="382.1" stroke="#111" stroke-width="1.5"/>
<line x1="323.3" y1="349.2" x2="333.9" y2="349.2" stroke="#111" stroke-width="1.8"/>
<line x1="359.6" y1="338.7" x2="359.6" y2="381.8" stroke="#111" stroke-width="1.5"/>
<line x1="354.3" y1="338.7" x2="364.9" y2="338.7" stroke="#111" stroke-width="1.8"/>
<line x1="390.5" y1="396.8" x2="390.5" y2="402.0" stroke="#111" stroke-width="1.5"/>
<line x1="385.2" y1="396.8" x2="395.8" y2="396.8" stroke="#111" stroke-width="1.8"/>
<line x1="420.7" y1="292.7" x2="420.7" y2="343.0" stroke="#111" stroke-width="1.5"/>
<line x1="415.4" y1="292.7" x2="426.0" y2="292.7" stroke="#111" stroke-width="1.8"/>
<line x1="420.7" y1="378.3" x2="420.7" y2="382.0" stroke="#111" stroke-width="1.5"/>
<line x1="415.4" y1="382.0" x2="426.0" y2="382.0" stroke="#111" stroke-width="1.8"/>
<line x1="451.2" y1="339.7" x2="451.2" y2="375.6" stroke="#111" stroke-width="1.5"/>
<line x1="445.9" y1="339.7" x2="456.5" y2="339.7" stroke="#111" stroke-width="1.8"/>
<line x1="451.2" y1="393.3" x2="451.2" y2="396.0" stroke="#111" stroke-width="1.5"/>
<line x1="445.9" y1="396.0" x2="456.5" y2="396.0" stroke="#111" stroke-width="1.8"/>
<line x1="482.2" y1="327.3" x2="482.2" y2="362.7" stroke="#111" stroke-width="1.5"/>
<line x1="476.9" y1="327.3" x2="487.5" y2="327.3" stroke="#111" stroke-width="1.8"/>
<line x1="482.2" y1="401.2" x2="482.2" y2="403.5" stroke="#111" stroke-width="1.5"/>
<line x1="476.9" y1="403.5" x2="487.5" y2="403.5" stroke="#111" stroke-width="1.8"/>
<polyline points="328.6,349.2 359.6,338.7 420.7,380.5 451.2,387.9 482.2,401.4" fill="none" stroke="#888" stroke-width="1.4"/>
<polyline points="328.6,392.8 359.6,396.5 390.5,401.4 420.7,292.7 451.2,339.5 482.2,327.3" fill="none" stroke="#888" stroke-width="1.4"/>
<polyline points="328.6,407.6 359.6,408.2 390.5,405.1 420.7,362.0 451.2,387.9 482.2,374.7" fill="none" stroke="#888" stroke-width="1.4"/>
<polyline points="328.6,407.6 359.6,408.8 390.5,407.6 420.7,366.9 451.2,390.3 482.2,401.4" fill="none" stroke="#888" stroke-width="1.4"/>
<polyline points="328.6,408.8 359.6,410.1 390.5,408.8 420.7,378.0 451.2,392.8 482.2,402.7" fill="none" stroke="#888" stroke-width="1.4"/>
<polyline points="328.6,406.4 359.6,407.6 390.5,403.9 420.7,380.5 451.2,395.3 482.2,403.3" fill="none" stroke="#888" stroke-width="1.4"/>
<circle cx="328.6" cy="349.2" r="2.2" fill="#34558f"/>
<circle cx="359.6" cy="338.7" r="2.2" fill="#6aaa52"/>
<circle cx="420.7" cy="380.5" r="2.2" fill="#eba238"/>
<rect x="449.0" y="385.7" width="4.4" height="4.4" fill="#3d7158"/>
<polygon points="482.2,398.8 479.7,403.2 484.7,403.2" fill="#9d9fd0"/>
<circle cx="328.6" cy="392.8" r="2.2" fill="#34558f"/>
<circle cx="359.6" cy="396.5" r="2.2" fill="#6aaa52"/>
<circle cx="390.5" cy="401.4" r="1.3" fill="#4d3f78"/>
<circle cx="420.7" cy="292.7" r="2.2" fill="#eba238"/>
<rect x="449.0" y="337.3" width="4.4" height="4.4" fill="#3d7158"/>
<polygon points="482.2,324.7 479.7,329.1 484.7,329.1" fill="#9d9fd0"/>
<circle cx="328.6" cy="407.6" r="2.2" fill="#34558f"/>
<circle cx="359.6" cy="408.2" r="2.2" fill="#6aaa52"/>
<circle cx="390.5" cy="405.1" r="1.3" fill="#4d3f78"/>
<circle cx="420.7" cy="362.0" r="2.2" fill="#eba238"/>
<rect x="449.0" y="385.7" width="4.4" height="4.4" fill="#3d7158"/>
<polygon points="482.2,372.0 479.7,376.4 484.7,376.4" fill="#9d9fd0"/>
<circle cx="328.6" cy="407.6" r="2.2" fill="#34558f"/>
<circle cx="359.6" cy="408.8" r="2.2" fill="#6aaa52"/>
<circle cx="390.5" cy="407.6" r="1.3" fill="#4d3f78"/>
<circle cx="420.7" cy="366.9" r="2.2" fill="#eba238"/>
<rect x="449.0" y="388.1" width="4.4" height="4.4" fill="#3d7158"/>
<polygon points="482.2,398.8 479.7,403.2 484.7,403.2" fill="#9d9fd0"/>
<circle cx="328.6" cy="408.8" r="2.2" fill="#34558f"/>
<circle cx="359.6" cy="410.1" r="2.2" fill="#6aaa52"/>
<circle cx="390.5" cy="408.8" r="1.3" fill="#4d3f78"/>
<circle cx="420.7" cy="378.0" r="2.2" fill="#eba238"/>
<rect x="449.0" y="390.6" width="4.4" height="4.4" fill="#3d7158"/>
<polygon points="482.2,400.0 479.7,404.4 484.7,404.4" fill="#9d9fd0"/>
<circle cx="328.6" cy="406.4" r="2.2" fill="#34558f"/>
<circle cx="359.6" cy="407.6" r="2.2" fill="#6aaa52"/>
<circle cx="390.5" cy="403.9" r="1.3" fill="#4d3f78"/>
<circle cx="420.7" cy="380.5" r="2.2" fill="#eba238"/>
<rect x="449.0" y="393.1" width="4.4" height="4.4" fill="#3d7158"/>
<polygon points="482.2,400.6 479.7,405.0 484.7,405.0" fill="#9d9fd0"/>
<rect x="318.1" y="382.1" width="21.0" height="24.5" fill="none" stroke="#111" stroke-width="1.7"/>
<line x1="319.0" y1="394.4" x2="338.2" y2="394.4" stroke="#a3173e" stroke-width="2.4"/>
<rect x="349.1" y="381.8" width="21.0" height="26.2" fill="none" stroke="#111" stroke-width="1.7"/>
<line x1="350.0" y1="394.7" x2="369.2" y2="394.7" stroke="#a3173e" stroke-width="2.4"/>
<rect x="380.0" y="402.0" width="21.0" height="6.9" fill="#a3173e" stroke="#111" stroke-width="1.7"/>
<line x1="381.5" y1="405.2" x2="399.5" y2="405.2" stroke="#e8a0b0" stroke-width="0.8"/>
<rect x="410.2" y="343.0" width="21.0" height="35.3" fill="none" stroke="#111" stroke-width="1.7"/>
<line x1="410.2" y1="365.4" x2="431.2" y2="365.4" stroke="#111" stroke-width="1.6"/>
<line x1="411.1" y1="357.2" x2="430.3" y2="357.2" stroke="#a3173e" stroke-width="2.4"/>
<rect x="440.7" y="375.6" width="21.0" height="17.7" fill="none" stroke="#111" stroke-width="1.7"/>
<line x1="440.7" y1="390.0" x2="461.7" y2="390.0" stroke="#111" stroke-width="1.6"/>
<line x1="441.6" y1="382.6" x2="460.8" y2="382.6" stroke="#a3173e" stroke-width="2.4"/>
<rect x="471.7" y="362.7" width="21.0" height="38.5" fill="none" stroke="#111" stroke-width="1.7"/>
<line x1="472.6" y1="384.6" x2="491.8" y2="384.6" stroke="#a3173e" stroke-width="2.4"/>
<text x="10.5" y="553.9" font-size="17" text-anchor="start" font-weight="bold" stroke="#1a1a1a" stroke-width="0.6">B</text>
<line x1="55.3" y1="606.0" x2="55.3" y2="741.5" stroke="#111" stroke-width="1.8"/>
<line x1="54.4" y1="740.7" x2="251.0" y2="740.7" stroke="#111" stroke-width="1.8"/>
<line x1="50.8" y1="740.8" x2="55.3" y2="740.8" stroke="#111" stroke-width="1.5"/>
<text x="46.6" y="745.0" font-size="12" text-anchor="end" >0</text>
<line x1="50.8" y1="697.1" x2="55.3" y2="697.1" stroke="#111" stroke-width="1.5"/>
<text x="46.6" y="701.3" font-size="12" text-anchor="end" >20</text>
<line x1="50.8" y1="653.4" x2="55.3" y2="653.4" stroke="#111" stroke-width="1.5"/>
<text x="46.6" y="657.6" font-size="12" text-anchor="end" >40</text>
<line x1="50.8" y1="609.7" x2="55.3" y2="609.7" stroke="#111" stroke-width="1.5"/>
<text x="46.6" y="613.9" font-size="12" text-anchor="end" >60</text>
<line x1="79.8" y1="740.7" x2="79.8" y2="745.6" stroke="#111" stroke-width="1.5"/>
<line x1="128.7" y1="740.7" x2="128.7" y2="745.6" stroke="#111" stroke-width="1.5"/>
<line x1="177.5" y1="740.7" x2="177.5" y2="745.6" stroke="#111" stroke-width="1.5"/>
<line x1="226.4" y1="740.7" x2="226.4" y2="745.6" stroke="#111" stroke-width="1.5"/>
<text x="155.4" y="556.0" font-size="12" text-anchor="middle" >2 + 7</text>
<line x1="75.4" y1="573.3" x2="235.1" y2="573.3" stroke="#111" stroke-width="1.8"/>
<text x="155.2" y="567.8" font-size="11.5" text-anchor="middle" >ns</text>
<line x1="126.3" y1="590.5" x2="181.8" y2="590.5" stroke="#111" stroke-width="1.8"/>
<polygon points="148.65,580.10 149.36,582.03 151.41,582.10 149.79,583.37 150.35,585.35 148.65,584.20 146.95,585.35 147.51,583.37 145.89,582.10 147.94,582.03" fill="#111"/>
<polygon points="154.05,580.10 154.76,582.03 156.81,582.10 155.19,583.37 155.75,585.35 154.05,584.20 152.35,585.35 152.91,583.37 151.29,582.10 153.34,582.03" fill="#111"/>
<polygon points="159.45,580.10 160.16,582.03 162.21,582.10 160.59,583.37 161.15,585.35 159.45,584.20 157.75,585.35 158.31,583.37 156.69,582.10 158.74,582.03" fill="#111"/>
<line x1="77.3" y1="603.3" x2="132.1" y2="603.3" stroke="#111" stroke-width="1.8"/>
<polygon points="102.00,592.90 102.71,594.83 104.76,594.90 103.14,596.17 103.70,598.15 102.00,597.00 100.30,598.15 100.86,596.17 99.24,594.90 101.29,594.83" fill="#111"/>
<polygon points="107.40,592.90 108.11,594.83 110.16,594.90 108.54,596.17 109.10,598.15 107.40,597.00 105.70,598.15 106.26,596.17 104.64,594.90 106.69,594.83" fill="#111"/>
<line x1="179.7" y1="603.3" x2="234.0" y2="603.3" stroke="#111" stroke-width="1.8"/>
<polygon points="204.15,592.90 204.86,594.83 206.91,594.90 205.29,596.17 205.85,598.15 204.15,597.00 202.45,598.15 203.01,596.17 201.39,594.90 203.44,594.83" fill="#111"/>
<polygon points="209.55,592.90 210.26,594.83 212.31,594.90 210.69,596.17 211.25,598.15 209.55,597.00 207.85,598.15 208.41,596.17 206.79,594.90 208.84,594.83" fill="#111"/>
<text x="80.1" y="760.4" font-size="11.5" text-anchor="middle">Eomes<tspan font-size="7" dy="-6.5" dx="0.3">-</tspan></text>
<text x="80.1" y="775.1" font-size="11.8" text-anchor="middle">CD117<tspan font-size="10" dy="-4.2">+</tspan></text>
<text x="129.0" y="760.4" font-size="11.5" text-anchor="middle">Eomes<tspan font-size="10" dy="-4.2">+</tspan></text>
<text x="129.0" y="775.1" font-size="11.8" text-anchor="middle">CD117<tspan font-size="10" dy="-4.2">+</tspan></text>
<text x="177.8" y="760.4" font-size="11.5" text-anchor="middle">Eomes<tspan font-size="10" dy="-4.2">+</tspan></text>
<text x="177.8" y="775.1" font-size="11.8" text-anchor="middle">CD117<tspan font-size="7" dy="-6.5" dx="0.3">-</tspan></text>
<text x="226.7" y="760.4" font-size="11.5" text-anchor="middle">Eomes<tspan font-size="7" dy="-6.5" dx="0.3">-</tspan></text>
<text x="226.7" y="775.1" font-size="11.8" text-anchor="middle">CD117<tspan font-size="7" dy="-6.5" dx="0.3">-</tspan></text>
<text transform="translate(23.8,723.4) rotate(-90)" class="c" font-size="14" textLength="99.5" lengthAdjust="spacingAndGlyphs">% ΔCD107<tspan font-size="9" dy="-5">+</tspan><tspan dy="5"> of subset</tspan></text>
<line x1="313.7" y1="606.0" x2="313.7" y2="741.5" stroke="#111" stroke-width="1.8"/>
<line x1="312.8" y1="740.7" x2="508.6" y2="740.7" stroke="#111" stroke-width="1.8"/>
<line x1="309.2" y1="740.8" x2="313.7" y2="740.8" stroke="#111" stroke-width="1.5"/>
<text x="305.0" y="745.0" font-size="12" text-anchor="end" >0</text>
<line x1="309.2" y1="697.1" x2="313.7" y2="697.1" stroke="#111" stroke-width="1.5"/>
<text x="305.0" y="701.3" font-size="12" text-anchor="end" >20</text>
<line x1="309.2" y1="653.4" x2="313.7" y2="653.4" stroke="#111" stroke-width="1.5"/>
<text x="305.0" y="657.6" font-size="12" text-anchor="end" >40</text>
<line x1="309.2" y1="609.7" x2="313.7" y2="609.7" stroke="#111" stroke-width="1.5"/>
<text x="305.0" y="613.9" font-size="12" text-anchor="end" >60</text>
<line x1="338.3" y1="740.7" x2="338.3" y2="745.6" stroke="#111" stroke-width="1.5"/>
<line x1="387.1" y1="740.7" x2="387.1" y2="745.6" stroke="#111" stroke-width="1.5"/>
<line x1="436.2" y1="740.7" x2="436.2" y2="745.6" stroke="#111" stroke-width="1.5"/>
<line x1="485.0" y1="740.7" x2="485.0" y2="745.6" stroke="#111" stroke-width="1.5"/>
<text x="405.5" y="556.0" font-size="12" text-anchor="middle" >12 + 15</text>
<line x1="324.8" y1="573.3" x2="485.3" y2="573.3" stroke="#111" stroke-width="1.8"/>
<text x="405.1" y="567.8" font-size="11.5" text-anchor="middle" >ns</text>
<line x1="376.6" y1="591.4" x2="432.2" y2="591.4" stroke="#111" stroke-width="1.8"/>
<polygon points="401.70,581.00 402.41,582.93 404.46,583.00 402.84,584.27 403.40,586.25 401.70,585.10 400.00,586.25 400.56,584.27 398.94,583.00 400.99,582.93" fill="#111"/>
<polygon points="407.10,581.00 407.81,582.93 409.86,583.00 408.24,584.27 408.80,586.25 407.10,585.10 405.40,586.25 405.96,584.27 404.34,583.00 406.39,582.93" fill="#111"/>
<line x1="327.3" y1="604.0" x2="381.9" y2="604.0" stroke="#111" stroke-width="1.8"/>
<polygon points="349.20,593.60 349.91,595.53 351.96,595.60 350.34,596.87 350.90,598.85 349.20,597.70 347.50,598.85 348.06,596.87 346.44,595.60 348.49,595.53" fill="#111"/>
<polygon points="354.60,593.60 355.31,595.53 357.36,595.60 355.74,596.87 356.30,598.85 354.60,597.70 352.90,598.85 353.46,596.87 351.84,595.60 353.89,595.53" fill="#111"/>
<polygon points="360.00,593.60 360.71,595.53 362.76,595.60 361.14,596.87 361.70,598.85 360.00,597.70 358.30,598.85 358.86,596.87 357.24,595.60 359.29,595.53" fill="#111"/>
<line x1="429.2" y1="604.0" x2="484.2" y2="604.0" stroke="#111" stroke-width="1.8"/>
<polygon points="451.30,593.60 452.01,595.53 454.06,595.60 452.44,596.87 453.00,598.85 451.30,597.70 449.60,598.85 450.16,596.87 448.54,595.60 450.59,595.53" fill="#111"/>
<polygon points="456.70,593.60 457.41,595.53 459.46,595.60 457.84,596.87 458.40,598.85 456.70,597.70 455.00,598.85 455.56,596.87 453.94,595.60 455.99,595.53" fill="#111"/>
<polygon points="462.10,593.60 462.81,595.53 464.86,595.60 463.24,596.87 463.80,598.85 462.10,597.70 460.40,598.85 460.96,596.87 459.34,595.60 461.39,595.53" fill="#111"/>
<text x="338.6" y="760.4" font-size="11.5" text-anchor="middle">Eomes<tspan font-size="7" dy="-6.5" dx="0.3">-</tspan></text>
<text x="338.6" y="775.1" font-size="11.8" text-anchor="middle">CD117<tspan font-size="10" dy="-4.2">+</tspan></text>
<text x="387.4" y="760.4" font-size="11.5" text-anchor="middle">Eomes<tspan font-size="10" dy="-4.2">+</tspan></text>
<text x="387.4" y="775.1" font-size="11.8" text-anchor="middle">CD117<tspan font-size="10" dy="-4.2">+</tspan></text>
<text x="436.5" y="760.4" font-size="11.5" text-anchor="middle">Eomes<tspan font-size="10" dy="-4.2">+</tspan></text>
<text x="436.5" y="775.1" font-size="11.8" text-anchor="middle">CD117<tspan font-size="7" dy="-6.5" dx="0.3">-</tspan></text>
<text x="485.3" y="760.4" font-size="11.5" text-anchor="middle">Eomes<tspan font-size="7" dy="-6.5" dx="0.3">-</tspan></text>
<text x="485.3" y="775.1" font-size="11.8" text-anchor="middle">CD117<tspan font-size="7" dy="-6.5" dx="0.3">-</tspan></text>
<text transform="translate(282.2,723.4) rotate(-90)" class="c" font-size="14" textLength="99.5" lengthAdjust="spacingAndGlyphs">% ΔCD107<tspan font-size="9" dy="-5">+</tspan><tspan dy="5"> of subset</tspan></text>
<line x1="79.8" y1="709.2" x2="79.8" y2="730.4" stroke="#111" stroke-width="1.6"/>
<line x1="71.2" y1="709.2" x2="88.4" y2="709.2" stroke="#111" stroke-width="1.7"/>
<line x1="71.2" y1="730.4" x2="88.4" y2="730.4" stroke="#111" stroke-width="1.7"/>
<circle cx="74.0" cy="705.0" r="2.0" fill="#3b4f7f"/>
<circle cx="80.1" cy="707.1" r="2.0" fill="#3b4f7f"/>
<circle cx="91.7" cy="723.1" r="2.0" fill="#3b4f7f"/>
<circle cx="74.0" cy="726.9" r="2.0" fill="#3b4f7f"/>
<circle cx="79.8" cy="727.7" r="2.0" fill="#3b4f7f"/>
<circle cx="85.9" cy="726.9" r="2.0" fill="#3b4f7f"/>
<line x1="63.8" y1="719.7" x2="95.8" y2="719.7" stroke="#a3173e" stroke-width="2.4"/>
<line x1="128.7" y1="635.7" x2="128.7" y2="707.6" stroke="#111" stroke-width="1.6"/>
<line x1="120.1" y1="635.7" x2="137.3" y2="635.7" stroke="#111" stroke-width="1.7"/>
<line x1="120.1" y1="707.6" x2="137.3" y2="707.6" stroke="#111" stroke-width="1.7"/>
<rect x="126.7" y="616.0" width="4.0" height="4.0" fill="#6dac5a"/>
<rect x="126.7" y="656.3" width="4.0" height="4.0" fill="#6dac5a"/>
<rect x="132.6" y="669.7" width="4.0" height="4.0" fill="#6dac5a"/>
<rect x="126.7" y="679.9" width="4.0" height="4.0" fill="#6dac5a"/>
<rect x="126.7" y="726.5" width="4.0" height="4.0" fill="#6dac5a"/>
<line x1="112.3" y1="671.7" x2="145.1" y2="671.7" stroke="#a3173e" stroke-width="2.4"/>
<line x1="177.5" y1="640.2" x2="177.5" y2="655.3" stroke="#111" stroke-width="1.6"/>
<line x1="168.9" y1="640.2" x2="186.1" y2="640.2" stroke="#111" stroke-width="1.7"/>
<line x1="168.9" y1="655.3" x2="186.1" y2="655.3" stroke="#111" stroke-width="1.7"/>
<polygon points="177.7,635.4 175.5,639.2 179.9,639.2" fill="#2e2e5c"/>
<polygon points="182.9,649.2 180.7,653.0 185.1,653.0" fill="#2e2e5c"/>
<polygon points="176.8,654.6 174.6,658.4 179.0,658.4" fill="#2e2e5c"/>
<line x1="161.3" y1="647.5" x2="193.7" y2="647.5" stroke="#a3173e" stroke-width="2.4"/>
<line x1="226.4" y1="692.0" x2="226.4" y2="726.5" stroke="#111" stroke-width="1.6"/>
<line x1="217.8" y1="692.0" x2="235.0" y2="692.0" stroke="#111" stroke-width="1.7"/>
<line x1="217.8" y1="726.5" x2="235.0" y2="726.5" stroke="#111" stroke-width="1.7"/>
<polygon points="232.7,695.8 230.5,692.0 234.9,692.0" fill="#d2a050"/>
<polygon points="220.4,699.4 218.2,695.6 222.6,695.6" fill="#d2a050"/>
<polygon points="226.7,699.8 224.5,696.0 228.9,696.0" fill="#d2a050"/>
<polygon points="226.4,706.8 224.2,703.0 228.6,703.0" fill="#d2a050"/>
<polygon points="226.4,727.5 224.2,723.7 228.6,723.7" fill="#d2a050"/>
<polygon points="226.4,736.6 224.2,732.8 228.6,732.8" fill="#d2a050"/>
<line x1="210.2" y1="708.8" x2="242.6" y2="708.8" stroke="#a3173e" stroke-width="2.4"/>
<line x1="338.5" y1="728.2" x2="338.5" y2="739.0" stroke="#111" stroke-width="1.6"/>
<line x1="329.9" y1="728.2" x2="347.1" y2="728.2" stroke="#111" stroke-width="1.7"/>
<line x1="329.9" y1="739.0" x2="347.1" y2="739.0" stroke="#111" stroke-width="1.7"/>
<circle cx="338.5" cy="726.5" r="2.0" fill="#3f5f95"/>
<circle cx="343.8" cy="726.5" r="2.0" fill="#3f5f95"/>
<circle cx="332.3" cy="734.6" r="2.0" fill="#3f5f95"/>
<circle cx="343.0" cy="736.2" r="2.0" fill="#3f5f95"/>
<circle cx="338.5" cy="737.3" r="2.0" fill="#3f5f95"/>
<circle cx="334.0" cy="739.5" r="2.0" fill="#3f5f95"/>
<line x1="322.5" y1="733.5" x2="354.5" y2="733.5" stroke="#a3173e" stroke-width="2.4"/>
<line x1="387.1" y1="665.6" x2="387.1" y2="694.5" stroke="#111" stroke-width="1.6"/>
<line x1="378.5" y1="665.6" x2="395.7" y2="665.6" stroke="#111" stroke-width="1.7"/>
<line x1="378.5" y1="694.5" x2="395.7" y2="694.5" stroke="#111" stroke-width="1.7"/>
<rect x="379.3" y="660.0" width="4.0" height="4.0" fill="#6dac5a"/>
<rect x="385.3" y="664.3" width="4.0" height="4.0" fill="#6dac5a"/>
<rect x="385.1" y="674.7" width="4.0" height="4.0" fill="#6dac5a"/>
<rect x="379.3" y="684.8" width="4.0" height="4.0" fill="#6dac5a"/>
<rect x="385.3" y="686.5" width="4.0" height="4.0" fill="#6dac5a"/>
<rect x="385.3" y="698.5" width="4.0" height="4.0" fill="#6dac5a"/>
<line x1="370.9" y1="680.3" x2="403.3" y2="680.3" stroke="#a3173e" stroke-width="2.4"/>
<line x1="436.2" y1="636.9" x2="436.2" y2="679.8" stroke="#111" stroke-width="1.6"/>
<line x1="427.6" y1="636.9" x2="444.8" y2="636.9" stroke="#111" stroke-width="1.7"/>
<line x1="427.6" y1="679.8" x2="444.8" y2="679.8" stroke="#111" stroke-width="1.7"/>
<polygon points="436.2,620.9 434.0,624.7 438.4,624.7" fill="#2e2e5c"/>
<polygon points="436.2,644.7 434.0,648.5 438.4,648.5" fill="#2e2e5c"/>
<polygon points="430.3,660.9 428.1,664.7 432.5,664.7" fill="#2e2e5c"/>
<polygon points="436.2,661.5 434.0,665.3 438.4,665.3" fill="#2e2e5c"/>
<polygon points="436.2,667.5 434.0,671.3 438.4,671.3" fill="#2e2e5c"/>
<polygon points="436.2,683.3 434.0,687.1 438.4,687.1" fill="#2e2e5c"/>
<line x1="420.2" y1="657.9" x2="452.2" y2="657.9" stroke="#a3173e" stroke-width="2.4"/>
<line x1="485.0" y1="712.6" x2="485.0" y2="739.5" stroke="#111" stroke-width="1.6"/>
<line x1="476.4" y1="712.6" x2="493.6" y2="712.6" stroke="#111" stroke-width="1.7"/>
<line x1="476.4" y1="739.5" x2="493.6" y2="739.5" stroke="#111" stroke-width="1.7"/>
<polygon points="485.0,706.7 482.8,702.9 487.2,702.9" fill="#d2a050"/>
<polygon points="485.0,718.7 482.8,714.9 487.2,714.9" fill="#d2a050"/>
<polygon points="478.8,735.1 476.6,731.3 481.0,731.3" fill="#d2a050"/>
<polygon points="490.8,736.5 488.6,732.7 493.0,732.7" fill="#d2a050"/>
<polygon points="485.0,741.8 482.8,738.0 487.2,738.0" fill="#d2a050"/>
<line x1="469.0" y1="725.6" x2="501.0" y2="725.6" stroke="#a3173e" stroke-width="2.4"/>
</svg>
</body></html>
